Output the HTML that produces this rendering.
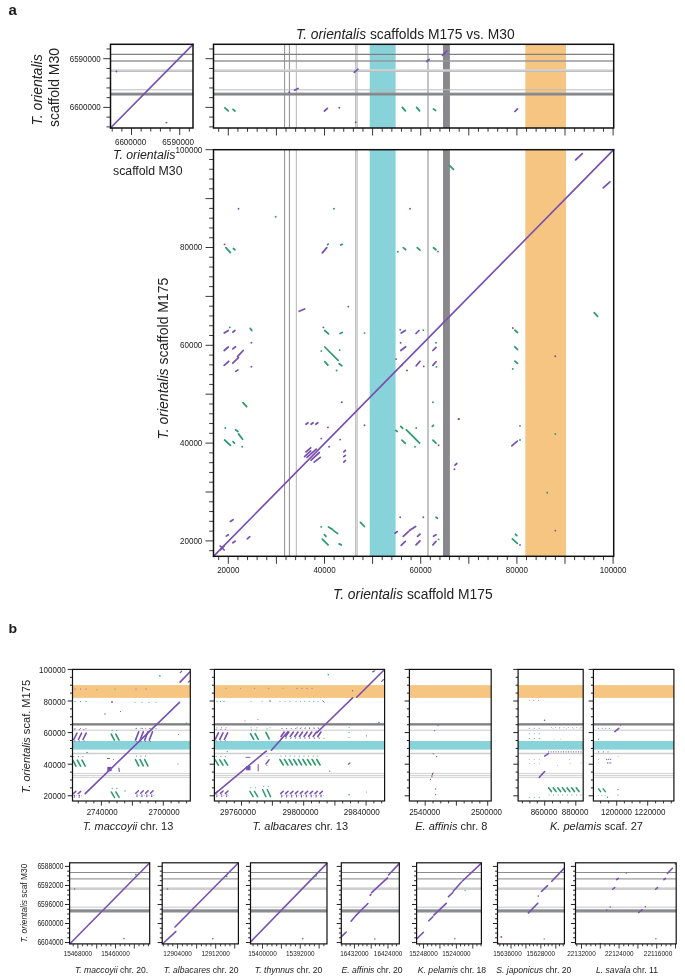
<!DOCTYPE html>
<html><head><meta charset="utf-8"><style>
html,body{margin:0;padding:0;background:#fff;}
svg{display:block;will-change:transform;font-family:"Liberation Sans", sans-serif;}
</style></head><body>
<svg width="685" height="976" viewBox="0 0 685 976">
<rect width="685" height="976" fill="#fff"/>
<text x="8.6" y="14.6" font-size="15" text-anchor="start" font-weight="bold" fill="#1a1a1a">a</text>
<rect x="369.7" y="44.3" width="25.9" height="83.7" fill="#88d3da"/>
<rect x="525.3" y="44.3" width="40.7" height="83.7" fill="#f7c582"/>
<rect x="443" y="44.3" width="6.9" height="83.7" fill="#89898d"/>
<line x1="284.6" y1="44.3" x2="284.6" y2="128" stroke="#8e8e8e" stroke-width="1"/>
<line x1="289.4" y1="44.3" x2="289.4" y2="128" stroke="#8e8e8e" stroke-width="1"/>
<line x1="296.3" y1="44.3" x2="296.3" y2="128" stroke="#b2b2b2" stroke-width="1"/>
<rect x="355.1" y="44.3" width="2.6" height="83.7" fill="#dadada"/>
<line x1="355.5" y1="44.3" x2="355.5" y2="128" stroke="#bcbcbc" stroke-width="0.8"/>
<line x1="357.3" y1="44.3" x2="357.3" y2="128" stroke="#c4c4c4" stroke-width="0.8"/>
<line x1="428" y1="44.3" x2="428" y2="128" stroke="#a2a2a2" stroke-width="1.3"/>
<line x1="213.5" y1="54.3" x2="613.7" y2="54.3" stroke="#7f8084" stroke-width="1.2"/>
<line x1="213.5" y1="61" x2="613.7" y2="61" stroke="#96979b" stroke-width="1.4"/>
<rect x="213.5" y="69.3" width="400.2" height="2.5" fill="#d6d6d8"/>
<line x1="213.5" y1="71.3" x2="613.7" y2="71.3" stroke="#b2b3b7" stroke-width="0.9"/>
<line x1="213.5" y1="89.8" x2="613.7" y2="89.8" stroke="#bcbcbc" stroke-width="1"/>
<rect x="213.5" y="92.6" width="400.2" height="3" fill="#929397"/>
<line x1="213.5" y1="94.4" x2="613.7" y2="94.4" stroke="#838488" stroke-width="1.2"/>
<rect x="369.7" y="149.7" width="25.9" height="406.6" fill="#88d3da"/>
<rect x="525.3" y="149.7" width="40.7" height="406.6" fill="#f7c582"/>
<rect x="443" y="149.7" width="6.9" height="406.6" fill="#89898d"/>
<line x1="284.6" y1="149.7" x2="284.6" y2="556.3" stroke="#8e8e8e" stroke-width="1"/>
<line x1="289.4" y1="149.7" x2="289.4" y2="556.3" stroke="#8e8e8e" stroke-width="1"/>
<line x1="296.3" y1="149.7" x2="296.3" y2="556.3" stroke="#b2b2b2" stroke-width="1"/>
<rect x="355.1" y="149.7" width="2.6" height="406.6" fill="#dadada"/>
<line x1="355.5" y1="149.7" x2="355.5" y2="556.3" stroke="#bcbcbc" stroke-width="0.8"/>
<line x1="357.3" y1="149.7" x2="357.3" y2="556.3" stroke="#c4c4c4" stroke-width="0.8"/>
<line x1="428" y1="149.7" x2="428" y2="556.3" stroke="#a2a2a2" stroke-width="1.3"/>
<line x1="110.5" y1="54.3" x2="193" y2="54.3" stroke="#7f8084" stroke-width="1.2"/>
<line x1="110.5" y1="61" x2="193" y2="61" stroke="#96979b" stroke-width="1.4"/>
<rect x="110.5" y="69.3" width="82.5" height="2.5" fill="#d6d6d8"/>
<line x1="110.5" y1="71.3" x2="193" y2="71.3" stroke="#b2b3b7" stroke-width="0.9"/>
<line x1="110.5" y1="89.8" x2="193" y2="89.8" stroke="#bcbcbc" stroke-width="1"/>
<rect x="110.5" y="92.6" width="82.5" height="3" fill="#929397"/>
<line x1="110.5" y1="94.4" x2="193" y2="94.4" stroke="#838488" stroke-width="1.2"/>
<line x1="218.68" y1="128" x2="218.68" y2="131.8" stroke="#222" stroke-width="0.9"/>
<line x1="228.3" y1="128" x2="228.3" y2="135.5" stroke="#222" stroke-width="0.9"/>
<line x1="237.92" y1="128" x2="237.92" y2="131.8" stroke="#222" stroke-width="0.9"/>
<line x1="247.54" y1="128" x2="247.54" y2="131.8" stroke="#222" stroke-width="0.9"/>
<line x1="257.16" y1="128" x2="257.16" y2="131.8" stroke="#222" stroke-width="0.9"/>
<line x1="266.78" y1="128" x2="266.78" y2="131.8" stroke="#222" stroke-width="0.9"/>
<line x1="276.4" y1="128" x2="276.4" y2="135.5" stroke="#222" stroke-width="0.9"/>
<line x1="286.02" y1="128" x2="286.02" y2="131.8" stroke="#222" stroke-width="0.9"/>
<line x1="295.64" y1="128" x2="295.64" y2="131.8" stroke="#222" stroke-width="0.9"/>
<line x1="305.26" y1="128" x2="305.26" y2="131.8" stroke="#222" stroke-width="0.9"/>
<line x1="314.88" y1="128" x2="314.88" y2="131.8" stroke="#222" stroke-width="0.9"/>
<line x1="324.5" y1="128" x2="324.5" y2="135.5" stroke="#222" stroke-width="0.9"/>
<line x1="334.12" y1="128" x2="334.12" y2="131.8" stroke="#222" stroke-width="0.9"/>
<line x1="343.74" y1="128" x2="343.74" y2="131.8" stroke="#222" stroke-width="0.9"/>
<line x1="353.36" y1="128" x2="353.36" y2="131.8" stroke="#222" stroke-width="0.9"/>
<line x1="362.98" y1="128" x2="362.98" y2="131.8" stroke="#222" stroke-width="0.9"/>
<line x1="372.6" y1="128" x2="372.6" y2="135.5" stroke="#222" stroke-width="0.9"/>
<line x1="382.22" y1="128" x2="382.22" y2="131.8" stroke="#222" stroke-width="0.9"/>
<line x1="391.84" y1="128" x2="391.84" y2="131.8" stroke="#222" stroke-width="0.9"/>
<line x1="401.46" y1="128" x2="401.46" y2="131.8" stroke="#222" stroke-width="0.9"/>
<line x1="411.08" y1="128" x2="411.08" y2="131.8" stroke="#222" stroke-width="0.9"/>
<line x1="420.7" y1="128" x2="420.7" y2="135.5" stroke="#222" stroke-width="0.9"/>
<line x1="430.32" y1="128" x2="430.32" y2="131.8" stroke="#222" stroke-width="0.9"/>
<line x1="439.94" y1="128" x2="439.94" y2="131.8" stroke="#222" stroke-width="0.9"/>
<line x1="449.56" y1="128" x2="449.56" y2="131.8" stroke="#222" stroke-width="0.9"/>
<line x1="459.18" y1="128" x2="459.18" y2="131.8" stroke="#222" stroke-width="0.9"/>
<line x1="468.8" y1="128" x2="468.8" y2="135.5" stroke="#222" stroke-width="0.9"/>
<line x1="478.42" y1="128" x2="478.42" y2="131.8" stroke="#222" stroke-width="0.9"/>
<line x1="488.04" y1="128" x2="488.04" y2="131.8" stroke="#222" stroke-width="0.9"/>
<line x1="497.66" y1="128" x2="497.66" y2="131.8" stroke="#222" stroke-width="0.9"/>
<line x1="507.28" y1="128" x2="507.28" y2="131.8" stroke="#222" stroke-width="0.9"/>
<line x1="516.9" y1="128" x2="516.9" y2="135.5" stroke="#222" stroke-width="0.9"/>
<line x1="526.52" y1="128" x2="526.52" y2="131.8" stroke="#222" stroke-width="0.9"/>
<line x1="536.14" y1="128" x2="536.14" y2="131.8" stroke="#222" stroke-width="0.9"/>
<line x1="545.76" y1="128" x2="545.76" y2="131.8" stroke="#222" stroke-width="0.9"/>
<line x1="555.38" y1="128" x2="555.38" y2="131.8" stroke="#222" stroke-width="0.9"/>
<line x1="565" y1="128" x2="565" y2="135.5" stroke="#222" stroke-width="0.9"/>
<line x1="574.62" y1="128" x2="574.62" y2="131.8" stroke="#222" stroke-width="0.9"/>
<line x1="584.24" y1="128" x2="584.24" y2="131.8" stroke="#222" stroke-width="0.9"/>
<line x1="593.86" y1="128" x2="593.86" y2="131.8" stroke="#222" stroke-width="0.9"/>
<line x1="603.48" y1="128" x2="603.48" y2="131.8" stroke="#222" stroke-width="0.9"/>
<line x1="613.1" y1="128" x2="613.1" y2="135.5" stroke="#222" stroke-width="0.9"/>
<line x1="218.68" y1="556.3" x2="218.68" y2="560.1" stroke="#222" stroke-width="0.9"/>
<line x1="228.3" y1="556.3" x2="228.3" y2="563.8" stroke="#222" stroke-width="0.9"/>
<line x1="237.92" y1="556.3" x2="237.92" y2="560.1" stroke="#222" stroke-width="0.9"/>
<line x1="247.54" y1="556.3" x2="247.54" y2="560.1" stroke="#222" stroke-width="0.9"/>
<line x1="257.16" y1="556.3" x2="257.16" y2="560.1" stroke="#222" stroke-width="0.9"/>
<line x1="266.78" y1="556.3" x2="266.78" y2="560.1" stroke="#222" stroke-width="0.9"/>
<line x1="276.4" y1="556.3" x2="276.4" y2="563.8" stroke="#222" stroke-width="0.9"/>
<line x1="286.02" y1="556.3" x2="286.02" y2="560.1" stroke="#222" stroke-width="0.9"/>
<line x1="295.64" y1="556.3" x2="295.64" y2="560.1" stroke="#222" stroke-width="0.9"/>
<line x1="305.26" y1="556.3" x2="305.26" y2="560.1" stroke="#222" stroke-width="0.9"/>
<line x1="314.88" y1="556.3" x2="314.88" y2="560.1" stroke="#222" stroke-width="0.9"/>
<line x1="324.5" y1="556.3" x2="324.5" y2="563.8" stroke="#222" stroke-width="0.9"/>
<line x1="334.12" y1="556.3" x2="334.12" y2="560.1" stroke="#222" stroke-width="0.9"/>
<line x1="343.74" y1="556.3" x2="343.74" y2="560.1" stroke="#222" stroke-width="0.9"/>
<line x1="353.36" y1="556.3" x2="353.36" y2="560.1" stroke="#222" stroke-width="0.9"/>
<line x1="362.98" y1="556.3" x2="362.98" y2="560.1" stroke="#222" stroke-width="0.9"/>
<line x1="372.6" y1="556.3" x2="372.6" y2="563.8" stroke="#222" stroke-width="0.9"/>
<line x1="382.22" y1="556.3" x2="382.22" y2="560.1" stroke="#222" stroke-width="0.9"/>
<line x1="391.84" y1="556.3" x2="391.84" y2="560.1" stroke="#222" stroke-width="0.9"/>
<line x1="401.46" y1="556.3" x2="401.46" y2="560.1" stroke="#222" stroke-width="0.9"/>
<line x1="411.08" y1="556.3" x2="411.08" y2="560.1" stroke="#222" stroke-width="0.9"/>
<line x1="420.7" y1="556.3" x2="420.7" y2="563.8" stroke="#222" stroke-width="0.9"/>
<line x1="430.32" y1="556.3" x2="430.32" y2="560.1" stroke="#222" stroke-width="0.9"/>
<line x1="439.94" y1="556.3" x2="439.94" y2="560.1" stroke="#222" stroke-width="0.9"/>
<line x1="449.56" y1="556.3" x2="449.56" y2="560.1" stroke="#222" stroke-width="0.9"/>
<line x1="459.18" y1="556.3" x2="459.18" y2="560.1" stroke="#222" stroke-width="0.9"/>
<line x1="468.8" y1="556.3" x2="468.8" y2="563.8" stroke="#222" stroke-width="0.9"/>
<line x1="478.42" y1="556.3" x2="478.42" y2="560.1" stroke="#222" stroke-width="0.9"/>
<line x1="488.04" y1="556.3" x2="488.04" y2="560.1" stroke="#222" stroke-width="0.9"/>
<line x1="497.66" y1="556.3" x2="497.66" y2="560.1" stroke="#222" stroke-width="0.9"/>
<line x1="507.28" y1="556.3" x2="507.28" y2="560.1" stroke="#222" stroke-width="0.9"/>
<line x1="516.9" y1="556.3" x2="516.9" y2="563.8" stroke="#222" stroke-width="0.9"/>
<line x1="526.52" y1="556.3" x2="526.52" y2="560.1" stroke="#222" stroke-width="0.9"/>
<line x1="536.14" y1="556.3" x2="536.14" y2="560.1" stroke="#222" stroke-width="0.9"/>
<line x1="545.76" y1="556.3" x2="545.76" y2="560.1" stroke="#222" stroke-width="0.9"/>
<line x1="555.38" y1="556.3" x2="555.38" y2="560.1" stroke="#222" stroke-width="0.9"/>
<line x1="565" y1="556.3" x2="565" y2="563.8" stroke="#222" stroke-width="0.9"/>
<line x1="574.62" y1="556.3" x2="574.62" y2="560.1" stroke="#222" stroke-width="0.9"/>
<line x1="584.24" y1="556.3" x2="584.24" y2="560.1" stroke="#222" stroke-width="0.9"/>
<line x1="593.86" y1="556.3" x2="593.86" y2="560.1" stroke="#222" stroke-width="0.9"/>
<line x1="603.48" y1="556.3" x2="603.48" y2="560.1" stroke="#222" stroke-width="0.9"/>
<line x1="613.1" y1="556.3" x2="613.1" y2="563.8" stroke="#222" stroke-width="0.9"/>
<line x1="209.2" y1="550.68" x2="213.5" y2="550.68" stroke="#222" stroke-width="0.9"/>
<line x1="205.5" y1="540.9" x2="213.5" y2="540.9" stroke="#222" stroke-width="0.9"/>
<line x1="209.2" y1="531.12" x2="213.5" y2="531.12" stroke="#222" stroke-width="0.9"/>
<line x1="209.2" y1="521.34" x2="213.5" y2="521.34" stroke="#222" stroke-width="0.9"/>
<line x1="209.2" y1="511.56" x2="213.5" y2="511.56" stroke="#222" stroke-width="0.9"/>
<line x1="209.2" y1="501.78" x2="213.5" y2="501.78" stroke="#222" stroke-width="0.9"/>
<line x1="205.5" y1="492" x2="213.5" y2="492" stroke="#222" stroke-width="0.9"/>
<line x1="209.2" y1="482.22" x2="213.5" y2="482.22" stroke="#222" stroke-width="0.9"/>
<line x1="209.2" y1="472.44" x2="213.5" y2="472.44" stroke="#222" stroke-width="0.9"/>
<line x1="209.2" y1="462.66" x2="213.5" y2="462.66" stroke="#222" stroke-width="0.9"/>
<line x1="209.2" y1="452.88" x2="213.5" y2="452.88" stroke="#222" stroke-width="0.9"/>
<line x1="205.5" y1="443.1" x2="213.5" y2="443.1" stroke="#222" stroke-width="0.9"/>
<line x1="209.2" y1="433.32" x2="213.5" y2="433.32" stroke="#222" stroke-width="0.9"/>
<line x1="209.2" y1="423.54" x2="213.5" y2="423.54" stroke="#222" stroke-width="0.9"/>
<line x1="209.2" y1="413.76" x2="213.5" y2="413.76" stroke="#222" stroke-width="0.9"/>
<line x1="209.2" y1="403.98" x2="213.5" y2="403.98" stroke="#222" stroke-width="0.9"/>
<line x1="205.5" y1="394.2" x2="213.5" y2="394.2" stroke="#222" stroke-width="0.9"/>
<line x1="209.2" y1="384.42" x2="213.5" y2="384.42" stroke="#222" stroke-width="0.9"/>
<line x1="209.2" y1="374.64" x2="213.5" y2="374.64" stroke="#222" stroke-width="0.9"/>
<line x1="209.2" y1="364.86" x2="213.5" y2="364.86" stroke="#222" stroke-width="0.9"/>
<line x1="209.2" y1="355.08" x2="213.5" y2="355.08" stroke="#222" stroke-width="0.9"/>
<line x1="205.5" y1="345.3" x2="213.5" y2="345.3" stroke="#222" stroke-width="0.9"/>
<line x1="209.2" y1="335.52" x2="213.5" y2="335.52" stroke="#222" stroke-width="0.9"/>
<line x1="209.2" y1="325.74" x2="213.5" y2="325.74" stroke="#222" stroke-width="0.9"/>
<line x1="209.2" y1="315.96" x2="213.5" y2="315.96" stroke="#222" stroke-width="0.9"/>
<line x1="209.2" y1="306.18" x2="213.5" y2="306.18" stroke="#222" stroke-width="0.9"/>
<line x1="205.5" y1="296.4" x2="213.5" y2="296.4" stroke="#222" stroke-width="0.9"/>
<line x1="209.2" y1="286.62" x2="213.5" y2="286.62" stroke="#222" stroke-width="0.9"/>
<line x1="209.2" y1="276.84" x2="213.5" y2="276.84" stroke="#222" stroke-width="0.9"/>
<line x1="209.2" y1="267.06" x2="213.5" y2="267.06" stroke="#222" stroke-width="0.9"/>
<line x1="209.2" y1="257.28" x2="213.5" y2="257.28" stroke="#222" stroke-width="0.9"/>
<line x1="205.5" y1="247.5" x2="213.5" y2="247.5" stroke="#222" stroke-width="0.9"/>
<line x1="209.2" y1="237.72" x2="213.5" y2="237.72" stroke="#222" stroke-width="0.9"/>
<line x1="209.2" y1="227.94" x2="213.5" y2="227.94" stroke="#222" stroke-width="0.9"/>
<line x1="209.2" y1="218.16" x2="213.5" y2="218.16" stroke="#222" stroke-width="0.9"/>
<line x1="209.2" y1="208.38" x2="213.5" y2="208.38" stroke="#222" stroke-width="0.9"/>
<line x1="205.5" y1="198.6" x2="213.5" y2="198.6" stroke="#222" stroke-width="0.9"/>
<line x1="209.2" y1="188.82" x2="213.5" y2="188.82" stroke="#222" stroke-width="0.9"/>
<line x1="209.2" y1="179.04" x2="213.5" y2="179.04" stroke="#222" stroke-width="0.9"/>
<line x1="209.2" y1="169.26" x2="213.5" y2="169.26" stroke="#222" stroke-width="0.9"/>
<line x1="209.2" y1="159.48" x2="213.5" y2="159.48" stroke="#222" stroke-width="0.9"/>
<line x1="205.5" y1="149.7" x2="213.5" y2="149.7" stroke="#222" stroke-width="0.9"/>
<line x1="209.2" y1="48.96" x2="213.5" y2="48.96" stroke="#222" stroke-width="0.9"/>
<line x1="106.5" y1="48.96" x2="110.5" y2="48.96" stroke="#222" stroke-width="0.9"/>
<line x1="205.5" y1="58.7" x2="213.5" y2="58.7" stroke="#222" stroke-width="0.9"/>
<line x1="103.2" y1="58.7" x2="110.5" y2="58.7" stroke="#222" stroke-width="0.9"/>
<line x1="209.2" y1="68.44" x2="213.5" y2="68.44" stroke="#222" stroke-width="0.9"/>
<line x1="106.5" y1="68.44" x2="110.5" y2="68.44" stroke="#222" stroke-width="0.9"/>
<line x1="209.2" y1="78.18" x2="213.5" y2="78.18" stroke="#222" stroke-width="0.9"/>
<line x1="106.5" y1="78.18" x2="110.5" y2="78.18" stroke="#222" stroke-width="0.9"/>
<line x1="209.2" y1="87.92" x2="213.5" y2="87.92" stroke="#222" stroke-width="0.9"/>
<line x1="106.5" y1="87.92" x2="110.5" y2="87.92" stroke="#222" stroke-width="0.9"/>
<line x1="209.2" y1="97.66" x2="213.5" y2="97.66" stroke="#222" stroke-width="0.9"/>
<line x1="106.5" y1="97.66" x2="110.5" y2="97.66" stroke="#222" stroke-width="0.9"/>
<line x1="205.5" y1="107.4" x2="213.5" y2="107.4" stroke="#222" stroke-width="0.9"/>
<line x1="103.2" y1="107.4" x2="110.5" y2="107.4" stroke="#222" stroke-width="0.9"/>
<line x1="209.2" y1="117.14" x2="213.5" y2="117.14" stroke="#222" stroke-width="0.9"/>
<line x1="106.5" y1="117.14" x2="110.5" y2="117.14" stroke="#222" stroke-width="0.9"/>
<line x1="209.2" y1="126.88" x2="213.5" y2="126.88" stroke="#222" stroke-width="0.9"/>
<line x1="106.5" y1="126.88" x2="110.5" y2="126.88" stroke="#222" stroke-width="0.9"/>
<line x1="189.34" y1="128" x2="189.34" y2="131.6" stroke="#222" stroke-width="0.9"/>
<line x1="179.7" y1="128" x2="179.7" y2="135" stroke="#222" stroke-width="0.9"/>
<line x1="170.06" y1="128" x2="170.06" y2="131.6" stroke="#222" stroke-width="0.9"/>
<line x1="160.42" y1="128" x2="160.42" y2="131.6" stroke="#222" stroke-width="0.9"/>
<line x1="150.78" y1="128" x2="150.78" y2="131.6" stroke="#222" stroke-width="0.9"/>
<line x1="141.14" y1="128" x2="141.14" y2="131.6" stroke="#222" stroke-width="0.9"/>
<line x1="131.5" y1="128" x2="131.5" y2="135" stroke="#222" stroke-width="0.9"/>
<line x1="121.86" y1="128" x2="121.86" y2="131.6" stroke="#222" stroke-width="0.9"/>
<line x1="112.22" y1="128" x2="112.22" y2="131.6" stroke="#222" stroke-width="0.9"/>
<line x1="110.5" y1="128" x2="193" y2="44.3" stroke="#7850af" stroke-width="1.7" stroke-linecap="round"/>
<line x1="213.5" y1="556.3" x2="613.7" y2="149.7" stroke="#7850af" stroke-width="1.7" stroke-linecap="round"/>
<line x1="225.9" y1="247.7" x2="230.4" y2="252.6" stroke="#2e9a6e" stroke-width="1.75" stroke-linecap="round"/>
<line x1="233.4" y1="248.5" x2="234.9" y2="249.7" stroke="#2e9a6e" stroke-width="1.75" stroke-linecap="round"/>
<line x1="322.3" y1="252.8" x2="326.8" y2="247.7" stroke="#7850af" stroke-width="1.75" stroke-linecap="round"/>
<line x1="327.6" y1="244.7" x2="328.2" y2="244.1" stroke="#2e9a6e" stroke-width="1.75" stroke-linecap="round"/>
<line x1="340.7" y1="245" x2="342.2" y2="244.4" stroke="#2e9a6e" stroke-width="1.75" stroke-linecap="round"/>
<line x1="449.3" y1="165.3" x2="453.4" y2="169.4" stroke="#2e9a6e" stroke-width="1.75" stroke-linecap="round"/>
<line x1="403.3" y1="247.7" x2="405.7" y2="249.7" stroke="#2e9a6e" stroke-width="1.75" stroke-linecap="round"/>
<line x1="417.2" y1="247.7" x2="420" y2="250.1" stroke="#2e9a6e" stroke-width="1.75" stroke-linecap="round"/>
<line x1="433.5" y1="247.7" x2="436" y2="249.7" stroke="#2e9a6e" stroke-width="1.75" stroke-linecap="round"/>
<line x1="575.6" y1="159.9" x2="582.3" y2="153.6" stroke="#7850af" stroke-width="1.75" stroke-linecap="round"/>
<line x1="603.2" y1="187.9" x2="609.9" y2="181.8" stroke="#7850af" stroke-width="1.75" stroke-linecap="round"/>
<line x1="224.2" y1="333.1" x2="228.3" y2="330.5" stroke="#7850af" stroke-width="1.75" stroke-linecap="round"/>
<line x1="232.8" y1="332.1" x2="234.9" y2="330.5" stroke="#7850af" stroke-width="1.75" stroke-linecap="round"/>
<line x1="224.2" y1="350.5" x2="228.3" y2="347" stroke="#7850af" stroke-width="1.75" stroke-linecap="round"/>
<line x1="232.8" y1="348.9" x2="235.5" y2="346.8" stroke="#7850af" stroke-width="1.75" stroke-linecap="round"/>
<line x1="237.5" y1="356.6" x2="243.2" y2="350.5" stroke="#7850af" stroke-width="1.75" stroke-linecap="round"/>
<line x1="224.2" y1="365.4" x2="228.7" y2="361.3" stroke="#7850af" stroke-width="1.75" stroke-linecap="round"/>
<line x1="232.8" y1="363.2" x2="238.5" y2="357.7" stroke="#7850af" stroke-width="1.75" stroke-linecap="round"/>
<line x1="235.9" y1="371.4" x2="237.9" y2="369.9" stroke="#7850af" stroke-width="1.75" stroke-linecap="round"/>
<line x1="299.2" y1="311.3" x2="304.6" y2="309" stroke="#7850af" stroke-width="1.75" stroke-linecap="round"/>
<line x1="250.2" y1="328.4" x2="251.8" y2="330.5" stroke="#2e9a6e" stroke-width="1.75" stroke-linecap="round"/>
<line x1="243" y1="402.6" x2="246.7" y2="406.7" stroke="#2e9a6e" stroke-width="1.75" stroke-linecap="round"/>
<line x1="324.8" y1="330.5" x2="328.5" y2="333.8" stroke="#2e9a6e" stroke-width="1.75" stroke-linecap="round"/>
<line x1="340.1" y1="333.5" x2="342.2" y2="332.5" stroke="#2e9a6e" stroke-width="1.75" stroke-linecap="round"/>
<line x1="324.8" y1="347" x2="338.1" y2="360.3" stroke="#2e9a6e" stroke-width="1.75" stroke-linecap="round"/>
<line x1="324.8" y1="361.7" x2="327.9" y2="365.2" stroke="#2e9a6e" stroke-width="1.75" stroke-linecap="round"/>
<line x1="339.1" y1="363.8" x2="341.8" y2="365.8" stroke="#2e9a6e" stroke-width="1.75" stroke-linecap="round"/>
<line x1="401.2" y1="333.1" x2="405.3" y2="330.5" stroke="#7850af" stroke-width="1.75" stroke-linecap="round"/>
<line x1="416" y1="333.5" x2="419" y2="330.5" stroke="#7850af" stroke-width="1.75" stroke-linecap="round"/>
<line x1="400.8" y1="350.5" x2="405.7" y2="346.8" stroke="#7850af" stroke-width="1.75" stroke-linecap="round"/>
<line x1="432.9" y1="350.5" x2="436" y2="347.4" stroke="#7850af" stroke-width="1.75" stroke-linecap="round"/>
<line x1="416.2" y1="365.8" x2="420" y2="361.3" stroke="#7850af" stroke-width="1.75" stroke-linecap="round"/>
<line x1="432.9" y1="365.4" x2="436" y2="361.7" stroke="#7850af" stroke-width="1.75" stroke-linecap="round"/>
<line x1="594.2" y1="312.7" x2="597.6" y2="316.4" stroke="#2e9a6e" stroke-width="1.75" stroke-linecap="round"/>
<line x1="514.9" y1="330.1" x2="517.5" y2="332.5" stroke="#2e9a6e" stroke-width="1.75" stroke-linecap="round"/>
<line x1="514.9" y1="346.8" x2="517.5" y2="349.5" stroke="#2e9a6e" stroke-width="1.75" stroke-linecap="round"/>
<line x1="514.9" y1="361.1" x2="517.5" y2="363.4" stroke="#2e9a6e" stroke-width="1.75" stroke-linecap="round"/>
<line x1="235.5" y1="429.8" x2="237.9" y2="431.5" stroke="#2e9a6e" stroke-width="1.75" stroke-linecap="round"/>
<line x1="238.5" y1="433.9" x2="242.6" y2="439.2" stroke="#2e9a6e" stroke-width="1.75" stroke-linecap="round"/>
<line x1="224.6" y1="440" x2="230.4" y2="445.4" stroke="#2e9a6e" stroke-width="1.75" stroke-linecap="round"/>
<line x1="233" y1="441.7" x2="234.5" y2="443.1" stroke="#2e9a6e" stroke-width="1.75" stroke-linecap="round"/>
<line x1="328.5" y1="526.9" x2="332.6" y2="529.6" stroke="#2e9a6e" stroke-width="1.75" stroke-linecap="round"/>
<line x1="333.6" y1="530.6" x2="337.7" y2="533.6" stroke="#2e9a6e" stroke-width="1.75" stroke-linecap="round"/>
<line x1="324.4" y1="534.7" x2="326" y2="536.3" stroke="#2e9a6e" stroke-width="1.75" stroke-linecap="round"/>
<line x1="322.3" y1="539.2" x2="328.1" y2="544.9" stroke="#2e9a6e" stroke-width="1.75" stroke-linecap="round"/>
<line x1="339.1" y1="543.9" x2="341.3" y2="544.9" stroke="#2e9a6e" stroke-width="1.75" stroke-linecap="round"/>
<line x1="306" y1="424.3" x2="308" y2="422.7" stroke="#7850af" stroke-width="1.75" stroke-linecap="round"/>
<line x1="311.1" y1="424.3" x2="313.1" y2="422.7" stroke="#7850af" stroke-width="1.75" stroke-linecap="round"/>
<line x1="315.8" y1="424.3" x2="317.8" y2="422.7" stroke="#7850af" stroke-width="1.75" stroke-linecap="round"/>
<line x1="306" y1="451.9" x2="310.7" y2="447.8" stroke="#7850af" stroke-width="1.75" stroke-linecap="round"/>
<line x1="304.6" y1="456.6" x2="310.7" y2="450.9" stroke="#7850af" stroke-width="1.75" stroke-linecap="round"/>
<line x1="307" y1="457.4" x2="316.2" y2="449.2" stroke="#7850af" stroke-width="1.75" stroke-linecap="round"/>
<line x1="311.1" y1="460.1" x2="319.3" y2="452.5" stroke="#7850af" stroke-width="1.75" stroke-linecap="round"/>
<line x1="314.2" y1="462.1" x2="320.3" y2="457.4" stroke="#7850af" stroke-width="1.75" stroke-linecap="round"/>
<line x1="343.8" y1="451.9" x2="345.4" y2="450.3" stroke="#7850af" stroke-width="1.75" stroke-linecap="round"/>
<line x1="343.8" y1="456.6" x2="345.4" y2="455.4" stroke="#7850af" stroke-width="1.75" stroke-linecap="round"/>
<line x1="343.8" y1="462.1" x2="345.4" y2="460.5" stroke="#7850af" stroke-width="1.75" stroke-linecap="round"/>
<line x1="230.4" y1="521.4" x2="233" y2="519.7" stroke="#7850af" stroke-width="1.75" stroke-linecap="round"/>
<line x1="226.3" y1="536.1" x2="228.3" y2="534.7" stroke="#7850af" stroke-width="1.75" stroke-linecap="round"/>
<line x1="232.8" y1="542.8" x2="235.1" y2="541.2" stroke="#7850af" stroke-width="1.75" stroke-linecap="round"/>
<line x1="247.3" y1="538.8" x2="249.8" y2="536.7" stroke="#7850af" stroke-width="1.75" stroke-linecap="round"/>
<line x1="220.2" y1="546" x2="224.2" y2="550" stroke="#7850af" stroke-width="1.75" stroke-linecap="round"/>
<line x1="220.2" y1="550" x2="224.2" y2="546" stroke="#7850af" stroke-width="1.75" stroke-linecap="round"/>
<line x1="395.7" y1="430.4" x2="397.2" y2="431.5" stroke="#2e9a6e" stroke-width="1.75" stroke-linecap="round"/>
<line x1="400.8" y1="426.4" x2="402.7" y2="428.4" stroke="#2e9a6e" stroke-width="1.75" stroke-linecap="round"/>
<line x1="406.4" y1="429.8" x2="419.6" y2="443.1" stroke="#2e9a6e" stroke-width="1.75" stroke-linecap="round"/>
<line x1="401.9" y1="440.2" x2="405.3" y2="443.3" stroke="#2e9a6e" stroke-width="1.75" stroke-linecap="round"/>
<line x1="432.3" y1="426.4" x2="433.5" y2="425.3" stroke="#2e9a6e" stroke-width="1.75" stroke-linecap="round"/>
<line x1="432.9" y1="440.2" x2="436" y2="443.1" stroke="#2e9a6e" stroke-width="1.75" stroke-linecap="round"/>
<line x1="360.4" y1="522.4" x2="364.5" y2="526.5" stroke="#2e9a6e" stroke-width="1.75" stroke-linecap="round"/>
<line x1="436" y1="517.3" x2="437.4" y2="518.3" stroke="#2e9a6e" stroke-width="1.75" stroke-linecap="round"/>
<line x1="455" y1="465.2" x2="456.8" y2="463.5" stroke="#7850af" stroke-width="1.75" stroke-linecap="round"/>
<line x1="395.1" y1="533.2" x2="397.2" y2="531.6" stroke="#7850af" stroke-width="1.75" stroke-linecap="round"/>
<line x1="403.3" y1="536.3" x2="408.4" y2="531.6" stroke="#7850af" stroke-width="1.75" stroke-linecap="round"/>
<line x1="409.4" y1="530.6" x2="415.6" y2="526.5" stroke="#7850af" stroke-width="1.75" stroke-linecap="round"/>
<line x1="401.2" y1="545.3" x2="405.3" y2="541.4" stroke="#7850af" stroke-width="1.75" stroke-linecap="round"/>
<line x1="416" y1="544.9" x2="420" y2="540.8" stroke="#7850af" stroke-width="1.75" stroke-linecap="round"/>
<line x1="417.6" y1="536.3" x2="420" y2="534.1" stroke="#7850af" stroke-width="1.75" stroke-linecap="round"/>
<line x1="433.5" y1="536.3" x2="436" y2="534.7" stroke="#7850af" stroke-width="1.75" stroke-linecap="round"/>
<line x1="432.9" y1="544.9" x2="436" y2="541.4" stroke="#7850af" stroke-width="1.75" stroke-linecap="round"/>
<line x1="515.5" y1="534.3" x2="516.9" y2="535.7" stroke="#2e9a6e" stroke-width="1.75" stroke-linecap="round"/>
<line x1="512.4" y1="538.8" x2="517.3" y2="543.3" stroke="#2e9a6e" stroke-width="1.75" stroke-linecap="round"/>
<line x1="511.8" y1="445.8" x2="517.3" y2="441.1" stroke="#7850af" stroke-width="1.75" stroke-linecap="round"/>
<line x1="224.9" y1="107.8" x2="228.3" y2="110.8" stroke="#2e9a6e" stroke-width="1.75" stroke-linecap="round"/>
<line x1="233" y1="109.4" x2="234.9" y2="111" stroke="#2e9a6e" stroke-width="1.75" stroke-linecap="round"/>
<line x1="324.4" y1="111" x2="327.4" y2="108.4" stroke="#7850af" stroke-width="1.75" stroke-linecap="round"/>
<line x1="294.6" y1="90.2" x2="298.1" y2="88.5" stroke="#7850af" stroke-width="1.75" stroke-linecap="round"/>
<line x1="354.2" y1="72.3" x2="357.9" y2="69.2" stroke="#7850af" stroke-width="1.75" stroke-linecap="round"/>
<line x1="426.8" y1="61.5" x2="429.2" y2="59.4" stroke="#7850af" stroke-width="1.75" stroke-linecap="round"/>
<line x1="442.5" y1="55.3" x2="446.8" y2="50.8" stroke="#7850af" stroke-width="1.75" stroke-linecap="round"/>
<line x1="402.3" y1="107.4" x2="405.3" y2="110.9" stroke="#2e9a6e" stroke-width="1.75" stroke-linecap="round"/>
<line x1="416.6" y1="107.4" x2="419.6" y2="110.9" stroke="#2e9a6e" stroke-width="1.75" stroke-linecap="round"/>
<line x1="433.5" y1="108.9" x2="435.6" y2="110.5" stroke="#2e9a6e" stroke-width="1.75" stroke-linecap="round"/>
<line x1="514.9" y1="111.5" x2="517.5" y2="108.9" stroke="#7850af" stroke-width="1.75" stroke-linecap="round"/>
<circle cx="238.5" cy="208.7" r="0.95" fill="#7850af"/>
<circle cx="275.7" cy="216.8" r="0.95" fill="#2e9a6e"/>
<circle cx="224.6" cy="244.4" r="0.95" fill="#7850af"/>
<circle cx="334" cy="208.7" r="0.95" fill="#2e9a6e"/>
<circle cx="410" cy="208.7" r="0.95" fill="#7850af"/>
<circle cx="397.8" cy="251.8" r="0.95" fill="#2e9a6e"/>
<circle cx="438" cy="251.6" r="0.95" fill="#7850af"/>
<circle cx="251.4" cy="342.7" r="0.95" fill="#7850af"/>
<circle cx="251.4" cy="366.7" r="0.95" fill="#7850af"/>
<circle cx="348.3" cy="306.6" r="0.95" fill="#7850af"/>
<circle cx="323.4" cy="327.4" r="0.95" fill="#7850af"/>
<circle cx="341.8" cy="402.2" r="0.95" fill="#7850af"/>
<circle cx="229.8" cy="327.4" r="0.95" fill="#2e9a6e"/>
<circle cx="321.3" cy="351.1" r="0.95" fill="#2e9a6e"/>
<circle cx="339.7" cy="350.1" r="0.95" fill="#2e9a6e"/>
<circle cx="336.6" cy="370.5" r="0.95" fill="#2e9a6e"/>
<circle cx="400.2" cy="329.7" r="0.95" fill="#2e9a6e"/>
<circle cx="423.3" cy="330.1" r="0.95" fill="#2e9a6e"/>
<circle cx="436" cy="342.7" r="0.95" fill="#2e9a6e"/>
<circle cx="436.4" cy="366.9" r="0.95" fill="#2e9a6e"/>
<circle cx="364.5" cy="333.1" r="0.95" fill="#2e9a6e"/>
<circle cx="432.9" cy="402.2" r="0.95" fill="#2e9a6e"/>
<circle cx="396.1" cy="359.1" r="0.95" fill="#7850af"/>
<circle cx="401.7" cy="365.4" r="0.95" fill="#7850af"/>
<circle cx="407" cy="370.5" r="0.95" fill="#7850af"/>
<circle cx="400.6" cy="342.7" r="0.95" fill="#7850af"/>
<circle cx="423.7" cy="366.4" r="0.95" fill="#7850af"/>
<circle cx="458.9" cy="419" r="0.95" fill="#7850af"/>
<circle cx="512.8" cy="368.9" r="0.95" fill="#2e9a6e"/>
<circle cx="512.8" cy="328" r="0.95" fill="#7850af"/>
<circle cx="555.3" cy="356.2" r="0.95" fill="#7850af"/>
<circle cx="225.3" cy="428" r="0.95" fill="#2e9a6e"/>
<circle cx="242.2" cy="446.8" r="0.95" fill="#2e9a6e"/>
<circle cx="321.3" cy="526.9" r="0.95" fill="#2e9a6e"/>
<circle cx="327.9" cy="427.4" r="0.95" fill="#7850af"/>
<circle cx="321.3" cy="438.6" r="0.95" fill="#7850af"/>
<circle cx="329.1" cy="446.8" r="0.95" fill="#7850af"/>
<circle cx="340.1" cy="439.6" r="0.95" fill="#7850af"/>
<circle cx="416.2" cy="428" r="0.95" fill="#2e9a6e"/>
<circle cx="415" cy="446.8" r="0.95" fill="#2e9a6e"/>
<circle cx="438.6" cy="539.4" r="0.95" fill="#2e9a6e"/>
<circle cx="458.5" cy="419.2" r="0.95" fill="#7850af"/>
<circle cx="454.4" cy="469.3" r="0.95" fill="#7850af"/>
<circle cx="364.5" cy="425.3" r="0.95" fill="#7850af"/>
<circle cx="438.6" cy="445.2" r="0.95" fill="#7850af"/>
<circle cx="400.2" cy="517.3" r="0.95" fill="#7850af"/>
<circle cx="423.3" cy="517.3" r="0.95" fill="#7850af"/>
<circle cx="520" cy="425.9" r="0.95" fill="#2e9a6e"/>
<circle cx="520" cy="440" r="0.95" fill="#2e9a6e"/>
<circle cx="555.3" cy="433.9" r="0.95" fill="#2e9a6e"/>
<circle cx="547.2" cy="492.8" r="0.95" fill="#2e9a6e"/>
<circle cx="555.3" cy="530.6" r="0.95" fill="#7850af"/>
<circle cx="520" cy="544.9" r="0.95" fill="#7850af"/>
<circle cx="339.3" cy="107.8" r="0.95" fill="#7850af"/>
<circle cx="289.3" cy="92.2" r="0.95" fill="#7850af"/>
<circle cx="355.7" cy="122.2" r="0.95" fill="#7850af"/>
<circle cx="116.4" cy="71.5" r="0.95" fill="#7850af"/>
<circle cx="179.6" cy="57.6" r="0.95" fill="#2e9a6e"/>
<circle cx="166.4" cy="122.6" r="0.95" fill="#7850af"/>
<rect x="110.5" y="44.3" width="82.5" height="83.7" fill="none" stroke="#111" stroke-width="1.5"/>
<rect x="213.5" y="44.3" width="400.2" height="83.7" fill="none" stroke="#111" stroke-width="1.5"/>
<rect x="213.5" y="149.7" width="400.2" height="406.6" fill="none" stroke="#111" stroke-width="1.5"/>
<text x="405.3" y="38.6" font-size="13.8" text-anchor="middle" font-weight="normal" fill="#222"><tspan font-style="italic">T. orientalis</tspan> scaffolds M175 vs. M30</text>
<text x="42.5" y="89.9" font-size="14" text-anchor="middle" font-weight="normal" fill="#222" transform="rotate(-90 42.5 89.9)"><tspan font-style="italic">T. orientalis</tspan></text>
<text x="59.1" y="87.5" font-size="14" text-anchor="middle" font-weight="normal" fill="#222" transform="rotate(-90 59.1 87.5)">scaffold M30</text>
<text x="100.8" y="61.6" font-size="9.6" text-anchor="end" fill="#222" textLength="31.1" lengthAdjust="spacingAndGlyphs">6590000</text>
<text x="100.8" y="110.3" font-size="9.6" text-anchor="end" fill="#222" textLength="31.1" lengthAdjust="spacingAndGlyphs">6600000</text>
<text x="130.6" y="144.6" font-size="9.6" text-anchor="middle" fill="#222" textLength="31.4" lengthAdjust="spacingAndGlyphs">6600000</text>
<text x="178.2" y="144.6" font-size="9.6" text-anchor="middle" fill="#222" textLength="31.8" lengthAdjust="spacingAndGlyphs">6590000</text>
<text x="113" y="159.1" font-size="12.3" text-anchor="start" font-weight="normal" fill="#222"><tspan font-style="italic">T. orientalis</tspan></text>
<text x="113" y="174.6" font-size="12.3" text-anchor="start" font-weight="normal" fill="#222">scaffold M30</text>
<text x="202.3" y="543.8" font-size="9.6" text-anchor="end" fill="#222" textLength="22.25" lengthAdjust="spacingAndGlyphs">20000</text>
<text x="228.3" y="573.1" font-size="9.6" text-anchor="middle" fill="#222" textLength="22.25" lengthAdjust="spacingAndGlyphs">20000</text>
<text x="202.3" y="446" font-size="9.6" text-anchor="end" fill="#222" textLength="22.25" lengthAdjust="spacingAndGlyphs">40000</text>
<text x="324.5" y="573.1" font-size="9.6" text-anchor="middle" fill="#222" textLength="22.25" lengthAdjust="spacingAndGlyphs">40000</text>
<text x="202.3" y="348.2" font-size="9.6" text-anchor="end" fill="#222" textLength="22.25" lengthAdjust="spacingAndGlyphs">60000</text>
<text x="420.7" y="573.1" font-size="9.6" text-anchor="middle" fill="#222" textLength="22.25" lengthAdjust="spacingAndGlyphs">60000</text>
<text x="202.3" y="250.4" font-size="9.6" text-anchor="end" fill="#222" textLength="22.25" lengthAdjust="spacingAndGlyphs">80000</text>
<text x="516.9" y="573.1" font-size="9.6" text-anchor="middle" fill="#222" textLength="22.25" lengthAdjust="spacingAndGlyphs">80000</text>
<text x="202.3" y="152.6" font-size="9.6" text-anchor="end" fill="#222" textLength="26.7" lengthAdjust="spacingAndGlyphs">100000</text>
<text x="613.1" y="573.1" font-size="9.6" text-anchor="middle" fill="#222" textLength="26.7" lengthAdjust="spacingAndGlyphs">100000</text>
<text x="167.7" y="358.6" font-size="14" text-anchor="middle" font-weight="normal" fill="#222" transform="rotate(-90 167.7 358.6)"><tspan font-style="italic">T. orientalis</tspan> scaffold M175</text>
<text x="412.8" y="598.8" font-size="13.8" text-anchor="middle" font-weight="normal" fill="#222"><tspan font-style="italic">T. orientalis</tspan> scaffold M175</text>
<text x="8.6" y="632.9" font-size="13.4" text-anchor="start" font-weight="bold" fill="#1a1a1a" textLength="8.6" lengthAdjust="spacingAndGlyphs">b</text>
<rect x="72.5" y="685.1" width="117.8" height="12.8" fill="#f7c582"/>
<rect x="72.5" y="741" width="117.8" height="8.6" fill="#88d3da"/>
<rect x="72.5" y="723.2" width="117.8" height="2.3" fill="#7f7f82"/>
<line x1="72.5" y1="730.2" x2="190.3" y2="730.2" stroke="#c4c4c4" stroke-width="0.9"/>
<line x1="72.5" y1="753.5" x2="190.3" y2="753.5" stroke="#cdcdcd" stroke-width="1.4"/>
<line x1="72.5" y1="773.4" x2="190.3" y2="773.4" stroke="#c6c6c6" stroke-width="0.8"/>
<line x1="72.5" y1="775.4" x2="190.3" y2="775.4" stroke="#c6c6c6" stroke-width="0.8"/>
<line x1="72.5" y1="777.3" x2="190.3" y2="777.3" stroke="#c2c2c2" stroke-width="0.8"/>
<line x1="67.7" y1="795.8" x2="72.5" y2="795.8" stroke="#222" stroke-width="1"/>
<line x1="70" y1="787.9" x2="72.5" y2="787.9" stroke="#222" stroke-width="1"/>
<line x1="70" y1="780" x2="72.5" y2="780" stroke="#222" stroke-width="1"/>
<line x1="70" y1="772.1" x2="72.5" y2="772.1" stroke="#222" stroke-width="1"/>
<line x1="67.7" y1="764.2" x2="72.5" y2="764.2" stroke="#222" stroke-width="1"/>
<line x1="70" y1="756.3" x2="72.5" y2="756.3" stroke="#222" stroke-width="1"/>
<line x1="70" y1="748.4" x2="72.5" y2="748.4" stroke="#222" stroke-width="1"/>
<line x1="70" y1="740.5" x2="72.5" y2="740.5" stroke="#222" stroke-width="1"/>
<line x1="67.7" y1="732.6" x2="72.5" y2="732.6" stroke="#222" stroke-width="1"/>
<line x1="70" y1="724.7" x2="72.5" y2="724.7" stroke="#222" stroke-width="1"/>
<line x1="70" y1="716.8" x2="72.5" y2="716.8" stroke="#222" stroke-width="1"/>
<line x1="70" y1="708.9" x2="72.5" y2="708.9" stroke="#222" stroke-width="1"/>
<line x1="67.7" y1="701" x2="72.5" y2="701" stroke="#222" stroke-width="1"/>
<line x1="70" y1="693.1" x2="72.5" y2="693.1" stroke="#222" stroke-width="1"/>
<line x1="70" y1="685.2" x2="72.5" y2="685.2" stroke="#222" stroke-width="1"/>
<line x1="70" y1="677.3" x2="72.5" y2="677.3" stroke="#222" stroke-width="1"/>
<line x1="67.7" y1="669.4" x2="72.5" y2="669.4" stroke="#222" stroke-width="1"/>
<rect x="214.4" y="685.1" width="170.2" height="12.8" fill="#f7c582"/>
<rect x="214.4" y="741" width="170.2" height="8.6" fill="#88d3da"/>
<rect x="214.4" y="723.2" width="170.2" height="2.3" fill="#7f7f82"/>
<line x1="214.4" y1="730.2" x2="384.6" y2="730.2" stroke="#c4c4c4" stroke-width="0.9"/>
<line x1="214.4" y1="753.5" x2="384.6" y2="753.5" stroke="#cdcdcd" stroke-width="1.4"/>
<line x1="214.4" y1="773.4" x2="384.6" y2="773.4" stroke="#c6c6c6" stroke-width="0.8"/>
<line x1="214.4" y1="775.4" x2="384.6" y2="775.4" stroke="#c6c6c6" stroke-width="0.8"/>
<line x1="214.4" y1="777.3" x2="384.6" y2="777.3" stroke="#c2c2c2" stroke-width="0.8"/>
<line x1="209.6" y1="795.8" x2="214.4" y2="795.8" stroke="#222" stroke-width="1"/>
<line x1="211.9" y1="787.9" x2="214.4" y2="787.9" stroke="#222" stroke-width="1"/>
<line x1="211.9" y1="780" x2="214.4" y2="780" stroke="#222" stroke-width="1"/>
<line x1="211.9" y1="772.1" x2="214.4" y2="772.1" stroke="#222" stroke-width="1"/>
<line x1="209.6" y1="764.2" x2="214.4" y2="764.2" stroke="#222" stroke-width="1"/>
<line x1="211.9" y1="756.3" x2="214.4" y2="756.3" stroke="#222" stroke-width="1"/>
<line x1="211.9" y1="748.4" x2="214.4" y2="748.4" stroke="#222" stroke-width="1"/>
<line x1="211.9" y1="740.5" x2="214.4" y2="740.5" stroke="#222" stroke-width="1"/>
<line x1="209.6" y1="732.6" x2="214.4" y2="732.6" stroke="#222" stroke-width="1"/>
<line x1="211.9" y1="724.7" x2="214.4" y2="724.7" stroke="#222" stroke-width="1"/>
<line x1="211.9" y1="716.8" x2="214.4" y2="716.8" stroke="#222" stroke-width="1"/>
<line x1="211.9" y1="708.9" x2="214.4" y2="708.9" stroke="#222" stroke-width="1"/>
<line x1="209.6" y1="701" x2="214.4" y2="701" stroke="#222" stroke-width="1"/>
<line x1="211.9" y1="693.1" x2="214.4" y2="693.1" stroke="#222" stroke-width="1"/>
<line x1="211.9" y1="685.2" x2="214.4" y2="685.2" stroke="#222" stroke-width="1"/>
<line x1="211.9" y1="677.3" x2="214.4" y2="677.3" stroke="#222" stroke-width="1"/>
<line x1="209.6" y1="669.4" x2="214.4" y2="669.4" stroke="#222" stroke-width="1"/>
<rect x="409.4" y="685.1" width="81.8" height="12.8" fill="#f7c582"/>
<rect x="409.4" y="741" width="81.8" height="8.6" fill="#88d3da"/>
<rect x="409.4" y="723.2" width="81.8" height="2.3" fill="#7f7f82"/>
<line x1="409.4" y1="730.2" x2="491.2" y2="730.2" stroke="#c4c4c4" stroke-width="0.9"/>
<line x1="409.4" y1="753.5" x2="491.2" y2="753.5" stroke="#cdcdcd" stroke-width="1.4"/>
<line x1="409.4" y1="773.4" x2="491.2" y2="773.4" stroke="#c6c6c6" stroke-width="0.8"/>
<line x1="409.4" y1="775.4" x2="491.2" y2="775.4" stroke="#c6c6c6" stroke-width="0.8"/>
<line x1="409.4" y1="777.3" x2="491.2" y2="777.3" stroke="#c2c2c2" stroke-width="0.8"/>
<line x1="404.6" y1="795.8" x2="409.4" y2="795.8" stroke="#222" stroke-width="1"/>
<line x1="406.9" y1="787.9" x2="409.4" y2="787.9" stroke="#222" stroke-width="1"/>
<line x1="406.9" y1="780" x2="409.4" y2="780" stroke="#222" stroke-width="1"/>
<line x1="406.9" y1="772.1" x2="409.4" y2="772.1" stroke="#222" stroke-width="1"/>
<line x1="404.6" y1="764.2" x2="409.4" y2="764.2" stroke="#222" stroke-width="1"/>
<line x1="406.9" y1="756.3" x2="409.4" y2="756.3" stroke="#222" stroke-width="1"/>
<line x1="406.9" y1="748.4" x2="409.4" y2="748.4" stroke="#222" stroke-width="1"/>
<line x1="406.9" y1="740.5" x2="409.4" y2="740.5" stroke="#222" stroke-width="1"/>
<line x1="404.6" y1="732.6" x2="409.4" y2="732.6" stroke="#222" stroke-width="1"/>
<line x1="406.9" y1="724.7" x2="409.4" y2="724.7" stroke="#222" stroke-width="1"/>
<line x1="406.9" y1="716.8" x2="409.4" y2="716.8" stroke="#222" stroke-width="1"/>
<line x1="406.9" y1="708.9" x2="409.4" y2="708.9" stroke="#222" stroke-width="1"/>
<line x1="404.6" y1="701" x2="409.4" y2="701" stroke="#222" stroke-width="1"/>
<line x1="406.9" y1="693.1" x2="409.4" y2="693.1" stroke="#222" stroke-width="1"/>
<line x1="406.9" y1="685.2" x2="409.4" y2="685.2" stroke="#222" stroke-width="1"/>
<line x1="406.9" y1="677.3" x2="409.4" y2="677.3" stroke="#222" stroke-width="1"/>
<line x1="404.6" y1="669.4" x2="409.4" y2="669.4" stroke="#222" stroke-width="1"/>
<rect x="518.1" y="685.1" width="65.1" height="12.8" fill="#f7c582"/>
<rect x="518.1" y="741" width="65.1" height="8.6" fill="#88d3da"/>
<rect x="518.1" y="723.2" width="65.1" height="2.3" fill="#7f7f82"/>
<line x1="518.1" y1="730.2" x2="583.2" y2="730.2" stroke="#c4c4c4" stroke-width="0.9"/>
<line x1="518.1" y1="753.5" x2="583.2" y2="753.5" stroke="#cdcdcd" stroke-width="1.4"/>
<line x1="518.1" y1="773.4" x2="583.2" y2="773.4" stroke="#c6c6c6" stroke-width="0.8"/>
<line x1="518.1" y1="775.4" x2="583.2" y2="775.4" stroke="#c6c6c6" stroke-width="0.8"/>
<line x1="518.1" y1="777.3" x2="583.2" y2="777.3" stroke="#c2c2c2" stroke-width="0.8"/>
<line x1="513.3" y1="795.8" x2="518.1" y2="795.8" stroke="#222" stroke-width="1"/>
<line x1="515.6" y1="787.9" x2="518.1" y2="787.9" stroke="#222" stroke-width="1"/>
<line x1="515.6" y1="780" x2="518.1" y2="780" stroke="#222" stroke-width="1"/>
<line x1="515.6" y1="772.1" x2="518.1" y2="772.1" stroke="#222" stroke-width="1"/>
<line x1="513.3" y1="764.2" x2="518.1" y2="764.2" stroke="#222" stroke-width="1"/>
<line x1="515.6" y1="756.3" x2="518.1" y2="756.3" stroke="#222" stroke-width="1"/>
<line x1="515.6" y1="748.4" x2="518.1" y2="748.4" stroke="#222" stroke-width="1"/>
<line x1="515.6" y1="740.5" x2="518.1" y2="740.5" stroke="#222" stroke-width="1"/>
<line x1="513.3" y1="732.6" x2="518.1" y2="732.6" stroke="#222" stroke-width="1"/>
<line x1="515.6" y1="724.7" x2="518.1" y2="724.7" stroke="#222" stroke-width="1"/>
<line x1="515.6" y1="716.8" x2="518.1" y2="716.8" stroke="#222" stroke-width="1"/>
<line x1="515.6" y1="708.9" x2="518.1" y2="708.9" stroke="#222" stroke-width="1"/>
<line x1="513.3" y1="701" x2="518.1" y2="701" stroke="#222" stroke-width="1"/>
<line x1="515.6" y1="693.1" x2="518.1" y2="693.1" stroke="#222" stroke-width="1"/>
<line x1="515.6" y1="685.2" x2="518.1" y2="685.2" stroke="#222" stroke-width="1"/>
<line x1="515.6" y1="677.3" x2="518.1" y2="677.3" stroke="#222" stroke-width="1"/>
<line x1="513.3" y1="669.4" x2="518.1" y2="669.4" stroke="#222" stroke-width="1"/>
<rect x="593.4" y="685.1" width="80.5" height="12.8" fill="#f7c582"/>
<rect x="593.4" y="741" width="80.5" height="8.6" fill="#88d3da"/>
<rect x="593.4" y="723.2" width="80.5" height="2.3" fill="#7f7f82"/>
<line x1="593.4" y1="730.2" x2="673.9" y2="730.2" stroke="#c4c4c4" stroke-width="0.9"/>
<line x1="593.4" y1="753.5" x2="673.9" y2="753.5" stroke="#cdcdcd" stroke-width="1.4"/>
<line x1="593.4" y1="773.4" x2="673.9" y2="773.4" stroke="#c6c6c6" stroke-width="0.8"/>
<line x1="593.4" y1="775.4" x2="673.9" y2="775.4" stroke="#c6c6c6" stroke-width="0.8"/>
<line x1="593.4" y1="777.3" x2="673.9" y2="777.3" stroke="#c2c2c2" stroke-width="0.8"/>
<line x1="588.6" y1="795.8" x2="593.4" y2="795.8" stroke="#222" stroke-width="1"/>
<line x1="590.9" y1="787.9" x2="593.4" y2="787.9" stroke="#222" stroke-width="1"/>
<line x1="590.9" y1="780" x2="593.4" y2="780" stroke="#222" stroke-width="1"/>
<line x1="590.9" y1="772.1" x2="593.4" y2="772.1" stroke="#222" stroke-width="1"/>
<line x1="588.6" y1="764.2" x2="593.4" y2="764.2" stroke="#222" stroke-width="1"/>
<line x1="590.9" y1="756.3" x2="593.4" y2="756.3" stroke="#222" stroke-width="1"/>
<line x1="590.9" y1="748.4" x2="593.4" y2="748.4" stroke="#222" stroke-width="1"/>
<line x1="590.9" y1="740.5" x2="593.4" y2="740.5" stroke="#222" stroke-width="1"/>
<line x1="588.6" y1="732.6" x2="593.4" y2="732.6" stroke="#222" stroke-width="1"/>
<line x1="590.9" y1="724.7" x2="593.4" y2="724.7" stroke="#222" stroke-width="1"/>
<line x1="590.9" y1="716.8" x2="593.4" y2="716.8" stroke="#222" stroke-width="1"/>
<line x1="590.9" y1="708.9" x2="593.4" y2="708.9" stroke="#222" stroke-width="1"/>
<line x1="588.6" y1="701" x2="593.4" y2="701" stroke="#222" stroke-width="1"/>
<line x1="590.9" y1="693.1" x2="593.4" y2="693.1" stroke="#222" stroke-width="1"/>
<line x1="590.9" y1="685.2" x2="593.4" y2="685.2" stroke="#222" stroke-width="1"/>
<line x1="590.9" y1="677.3" x2="593.4" y2="677.3" stroke="#222" stroke-width="1"/>
<line x1="588.6" y1="669.4" x2="593.4" y2="669.4" stroke="#222" stroke-width="1"/>
<line x1="85.2" y1="793.6" x2="179.5" y2="702.4" stroke="#7850af" stroke-width="1.6" stroke-linecap="round"/>
<line x1="180.1" y1="682.1" x2="190" y2="671.8" stroke="#7850af" stroke-width="1.6" stroke-linecap="round"/>
<line x1="180.3" y1="672.6" x2="181.7" y2="671.2" stroke="#7850af" stroke-width="1.2" stroke-linecap="round"/>
<line x1="188.3" y1="682.1" x2="190" y2="680.7" stroke="#7850af" stroke-width="1.2" stroke-linecap="round"/>
<rect x="107.3" y="766.9" width="4.3" height="4.3" fill="#7850af"/>
<line x1="73.8" y1="739.5" x2="77" y2="733.2" stroke="#7850af" stroke-width="1.62" stroke-linecap="round"/>
<circle cx="74.76" cy="729.6" r="0.55" fill="#7850af"/>
<circle cx="74.76" cy="740.9" r="0.55" fill="#7850af"/>
<line x1="78.4" y1="739.5" x2="81.6" y2="733.2" stroke="#7850af" stroke-width="1.62" stroke-linecap="round"/>
<circle cx="79.36" cy="729.6" r="0.55" fill="#7850af"/>
<circle cx="79.36" cy="740.9" r="0.55" fill="#7850af"/>
<line x1="83" y1="739.5" x2="86.2" y2="733.2" stroke="#7850af" stroke-width="1.62" stroke-linecap="round"/>
<circle cx="83.96" cy="729.6" r="0.55" fill="#7850af"/>
<circle cx="83.96" cy="740.9" r="0.55" fill="#7850af"/>
<line x1="111.2" y1="734.1" x2="114.4" y2="740.1" stroke="#2e9a6e" stroke-width="1.62" stroke-linecap="round"/>
<circle cx="112.16" cy="730.5" r="0.55" fill="#2e9a6e"/>
<line x1="115.8" y1="734.1" x2="119" y2="740.1" stroke="#2e9a6e" stroke-width="1.62" stroke-linecap="round"/>
<circle cx="116.76" cy="730.5" r="0.55" fill="#2e9a6e"/>
<line x1="135.5" y1="740.1" x2="138.7" y2="731.8" stroke="#7850af" stroke-width="1.62" stroke-linecap="round"/>
<circle cx="136.46" cy="728.2" r="0.55" fill="#7850af"/>
<circle cx="136.46" cy="741.5" r="0.55" fill="#7850af"/>
<line x1="140.1" y1="740.1" x2="143.3" y2="731.8" stroke="#7850af" stroke-width="1.62" stroke-linecap="round"/>
<circle cx="141.06" cy="728.2" r="0.55" fill="#7850af"/>
<circle cx="141.06" cy="741.5" r="0.55" fill="#7850af"/>
<line x1="144.7" y1="740.1" x2="147.9" y2="731.8" stroke="#7850af" stroke-width="1.62" stroke-linecap="round"/>
<circle cx="145.66" cy="728.2" r="0.55" fill="#7850af"/>
<circle cx="145.66" cy="741.5" r="0.55" fill="#7850af"/>
<line x1="149.3" y1="740.1" x2="152.5" y2="731.8" stroke="#7850af" stroke-width="1.62" stroke-linecap="round"/>
<circle cx="150.26" cy="728.2" r="0.55" fill="#7850af"/>
<circle cx="150.26" cy="741.5" r="0.55" fill="#7850af"/>
<line x1="72.8" y1="760.2" x2="76" y2="766.1" stroke="#2e9a6e" stroke-width="1.62" stroke-linecap="round"/>
<circle cx="73.76" cy="756.6" r="0.55" fill="#2e9a6e"/>
<line x1="77.4" y1="760.2" x2="80.6" y2="766.1" stroke="#2e9a6e" stroke-width="1.62" stroke-linecap="round"/>
<circle cx="78.36" cy="756.6" r="0.55" fill="#2e9a6e"/>
<line x1="82" y1="760.2" x2="85.2" y2="766.1" stroke="#2e9a6e" stroke-width="1.62" stroke-linecap="round"/>
<circle cx="82.96" cy="756.6" r="0.55" fill="#2e9a6e"/>
<line x1="135.5" y1="759.7" x2="138.7" y2="765.8" stroke="#2e9a6e" stroke-width="1.62" stroke-linecap="round"/>
<circle cx="136.46" cy="756.1" r="0.55" fill="#2e9a6e"/>
<line x1="140.1" y1="759.7" x2="143.3" y2="765.8" stroke="#2e9a6e" stroke-width="1.62" stroke-linecap="round"/>
<circle cx="141.06" cy="756.1" r="0.55" fill="#2e9a6e"/>
<line x1="144.7" y1="759.7" x2="147.9" y2="765.8" stroke="#2e9a6e" stroke-width="1.62" stroke-linecap="round"/>
<circle cx="145.66" cy="756.1" r="0.55" fill="#2e9a6e"/>
<line x1="73.2" y1="793.8" x2="75.8" y2="791.4" stroke="#7850af" stroke-width="1.5" stroke-linecap="round"/>
<circle cx="74.4" cy="795.5" r="0.75" fill="#7850af"/>
<circle cx="74.4" cy="797" r="0.7" fill="#7850af"/>
<circle cx="76.6" cy="795.8" r="0.45" fill="#7850af"/>
<line x1="78.1" y1="793.8" x2="80.7" y2="791.4" stroke="#7850af" stroke-width="1.5" stroke-linecap="round"/>
<circle cx="79.3" cy="795.5" r="0.75" fill="#7850af"/>
<circle cx="79.3" cy="797" r="0.7" fill="#7850af"/>
<circle cx="81.5" cy="795.8" r="0.45" fill="#7850af"/>
<line x1="111.3" y1="792" x2="114.5" y2="797.4" stroke="#2e9a6e" stroke-width="1.5" stroke-linecap="round"/>
<circle cx="112.26" cy="788.4" r="0.55" fill="#2e9a6e"/>
<line x1="115.9" y1="792" x2="119.1" y2="797.4" stroke="#2e9a6e" stroke-width="1.5" stroke-linecap="round"/>
<circle cx="116.86" cy="788.4" r="0.55" fill="#2e9a6e"/>
<line x1="135.8" y1="793.2" x2="138.4" y2="790.8" stroke="#7850af" stroke-width="1.5" stroke-linecap="round"/>
<circle cx="137" cy="794.9" r="0.75" fill="#7850af"/>
<circle cx="137" cy="796.4" r="0.7" fill="#7850af"/>
<circle cx="139.2" cy="795.2" r="0.45" fill="#7850af"/>
<line x1="140.7" y1="793.2" x2="143.3" y2="790.8" stroke="#7850af" stroke-width="1.5" stroke-linecap="round"/>
<circle cx="141.9" cy="794.9" r="0.75" fill="#7850af"/>
<circle cx="141.9" cy="796.4" r="0.7" fill="#7850af"/>
<circle cx="144.1" cy="795.2" r="0.45" fill="#7850af"/>
<line x1="145.6" y1="793.2" x2="148.2" y2="790.8" stroke="#7850af" stroke-width="1.5" stroke-linecap="round"/>
<circle cx="146.8" cy="794.9" r="0.75" fill="#7850af"/>
<circle cx="146.8" cy="796.4" r="0.7" fill="#7850af"/>
<circle cx="149" cy="795.2" r="0.45" fill="#7850af"/>
<line x1="150.5" y1="793.2" x2="153.1" y2="790.8" stroke="#7850af" stroke-width="1.5" stroke-linecap="round"/>
<circle cx="151.7" cy="794.9" r="0.75" fill="#7850af"/>
<circle cx="151.7" cy="796.4" r="0.7" fill="#7850af"/>
<circle cx="153.9" cy="795.2" r="0.45" fill="#7850af"/>
<line x1="118.9" y1="768.1" x2="119.3" y2="771.5" stroke="#7850af" stroke-width="1.1" stroke-linecap="round"/>
<line x1="107.5" y1="758.5" x2="109.5" y2="758.5" stroke="#7850af" stroke-width="1" stroke-linecap="round"/>
<circle cx="75" cy="689" r="0.5" fill="#7850af"/>
<circle cx="80.5" cy="689" r="0.5" fill="#7850af"/>
<circle cx="86" cy="689" r="0.5" fill="#7850af"/>
<circle cx="75" cy="701.5" r="0.6" fill="#2e9a6e"/>
<circle cx="80.5" cy="701.5" r="0.6" fill="#2e9a6e"/>
<circle cx="86" cy="701.5" r="0.6" fill="#2e9a6e"/>
<circle cx="136" cy="689" r="0.5" fill="#7850af"/>
<circle cx="146" cy="689" r="0.5" fill="#7850af"/>
<circle cx="135" cy="702.3" r="0.5" fill="#2e9a6e"/>
<circle cx="142" cy="702.3" r="0.5" fill="#2e9a6e"/>
<circle cx="149" cy="702.3" r="0.5" fill="#2e9a6e"/>
<circle cx="156" cy="702.3" r="0.5" fill="#2e9a6e"/>
<circle cx="75" cy="728.6" r="0.5" fill="#7850af"/>
<circle cx="80.5" cy="728.6" r="0.5" fill="#7850af"/>
<circle cx="86" cy="728.6" r="0.5" fill="#7850af"/>
<circle cx="136" cy="728.6" r="0.5" fill="#2e9a6e"/>
<circle cx="142.67" cy="728.6" r="0.5" fill="#2e9a6e"/>
<circle cx="149.33" cy="728.6" r="0.5" fill="#2e9a6e"/>
<circle cx="156" cy="728.6" r="0.5" fill="#2e9a6e"/>
<circle cx="159.9" cy="675.9" r="0.8" fill="#2e9a6e"/>
<circle cx="186.2" cy="723.3" r="0.8" fill="#2e9a6e"/>
<circle cx="87.1" cy="752.5" r="0.7" fill="#2e9a6e"/>
<circle cx="125" cy="790.9" r="0.7" fill="#2e9a6e"/>
<circle cx="113.6" cy="759.6" r="0.5" fill="#7850af"/>
<circle cx="97" cy="689.8" r="0.5" fill="#2e9a6e"/>
<circle cx="115" cy="689" r="0.5" fill="#2e9a6e"/>
<circle cx="105" cy="714" r="0.7" fill="#7850af"/>
<circle cx="120.5" cy="711.5" r="0.6" fill="#7850af"/>
<circle cx="112" cy="702" r="0.9" fill="#7850af"/>
<circle cx="178.5" cy="734.5" r="0.5" fill="#7850af"/>
<circle cx="178" cy="764" r="0.5" fill="#7850af"/>
<line x1="215.2" y1="793.6" x2="266.2" y2="751.1" stroke="#7850af" stroke-width="1.6" stroke-linecap="round"/>
<line x1="271.4" y1="750.2" x2="287.9" y2="731.8" stroke="#7850af" stroke-width="1.6" stroke-linecap="round"/>
<line x1="316.8" y1="732.7" x2="352.6" y2="697.9" stroke="#7850af" stroke-width="1.6" stroke-linecap="round"/>
<line x1="356.7" y1="697.2" x2="383.8" y2="670.3" stroke="#7850af" stroke-width="1.6" stroke-linecap="round"/>
<line x1="372.7" y1="671.9" x2="374.7" y2="670.8" stroke="#7850af" stroke-width="1.2" stroke-linecap="round"/>
<line x1="381.7" y1="681.4" x2="383.5" y2="679.6" stroke="#7850af" stroke-width="1.2" stroke-linecap="round"/>
<rect x="246.2" y="766" width="4.3" height="4.3" fill="#7850af"/>
<line x1="215.2" y1="739.4" x2="218.4" y2="732.9" stroke="#7850af" stroke-width="1.62" stroke-linecap="round"/>
<circle cx="216.16" cy="729.3" r="0.55" fill="#7850af"/>
<circle cx="216.16" cy="740.8" r="0.55" fill="#7850af"/>
<line x1="219.8" y1="739.4" x2="223" y2="732.9" stroke="#7850af" stroke-width="1.62" stroke-linecap="round"/>
<circle cx="220.76" cy="729.3" r="0.55" fill="#7850af"/>
<circle cx="220.76" cy="740.8" r="0.55" fill="#7850af"/>
<line x1="224.4" y1="739.4" x2="227.6" y2="732.9" stroke="#7850af" stroke-width="1.62" stroke-linecap="round"/>
<circle cx="225.36" cy="729.3" r="0.55" fill="#7850af"/>
<circle cx="225.36" cy="740.8" r="0.55" fill="#7850af"/>
<line x1="250.5" y1="733.6" x2="253.7" y2="739.4" stroke="#2e9a6e" stroke-width="1.62" stroke-linecap="round"/>
<circle cx="251.46" cy="730" r="0.55" fill="#2e9a6e"/>
<line x1="255.1" y1="733.6" x2="258.3" y2="739.4" stroke="#2e9a6e" stroke-width="1.62" stroke-linecap="round"/>
<circle cx="256.06" cy="730" r="0.55" fill="#2e9a6e"/>
<line x1="266" y1="732.3" x2="269.2" y2="738.8" stroke="#2e9a6e" stroke-width="1.62" stroke-linecap="round"/>
<circle cx="266.96" cy="728.7" r="0.55" fill="#2e9a6e"/>
<line x1="281" y1="736.4" x2="284.2" y2="732.1" stroke="#7850af" stroke-width="1.62" stroke-linecap="round"/>
<circle cx="281.96" cy="728.5" r="0.55" fill="#7850af"/>
<circle cx="281.96" cy="737.8" r="0.55" fill="#7850af"/>
<line x1="285.6" y1="736.4" x2="288.8" y2="732.1" stroke="#7850af" stroke-width="1.62" stroke-linecap="round"/>
<circle cx="286.56" cy="728.5" r="0.55" fill="#7850af"/>
<circle cx="286.56" cy="737.8" r="0.55" fill="#7850af"/>
<line x1="290.2" y1="736.4" x2="293.4" y2="732.1" stroke="#7850af" stroke-width="1.62" stroke-linecap="round"/>
<circle cx="291.16" cy="728.5" r="0.55" fill="#7850af"/>
<circle cx="291.16" cy="737.8" r="0.55" fill="#7850af"/>
<line x1="294.8" y1="736.4" x2="298" y2="732.1" stroke="#7850af" stroke-width="1.62" stroke-linecap="round"/>
<circle cx="295.76" cy="728.5" r="0.55" fill="#7850af"/>
<circle cx="295.76" cy="737.8" r="0.55" fill="#7850af"/>
<line x1="299.4" y1="736.4" x2="302.6" y2="732.1" stroke="#7850af" stroke-width="1.62" stroke-linecap="round"/>
<circle cx="300.36" cy="728.5" r="0.55" fill="#7850af"/>
<circle cx="300.36" cy="737.8" r="0.55" fill="#7850af"/>
<line x1="304" y1="736.4" x2="307.2" y2="732.1" stroke="#7850af" stroke-width="1.62" stroke-linecap="round"/>
<circle cx="304.96" cy="728.5" r="0.55" fill="#7850af"/>
<circle cx="304.96" cy="737.8" r="0.55" fill="#7850af"/>
<line x1="308.6" y1="736.4" x2="311.8" y2="732.1" stroke="#7850af" stroke-width="1.62" stroke-linecap="round"/>
<circle cx="309.56" cy="728.5" r="0.55" fill="#7850af"/>
<circle cx="309.56" cy="737.8" r="0.55" fill="#7850af"/>
<line x1="313.2" y1="736.4" x2="316.4" y2="732.1" stroke="#7850af" stroke-width="1.62" stroke-linecap="round"/>
<circle cx="314.16" cy="728.5" r="0.55" fill="#7850af"/>
<circle cx="314.16" cy="737.8" r="0.55" fill="#7850af"/>
<line x1="317.8" y1="736.4" x2="321" y2="732.1" stroke="#7850af" stroke-width="1.62" stroke-linecap="round"/>
<circle cx="318.76" cy="728.5" r="0.55" fill="#7850af"/>
<circle cx="318.76" cy="737.8" r="0.55" fill="#7850af"/>
<line x1="215.2" y1="759.9" x2="218.4" y2="765.1" stroke="#2e9a6e" stroke-width="1.62" stroke-linecap="round"/>
<circle cx="216.16" cy="756.3" r="0.55" fill="#2e9a6e"/>
<line x1="219.8" y1="759.9" x2="223" y2="765.1" stroke="#2e9a6e" stroke-width="1.62" stroke-linecap="round"/>
<circle cx="220.76" cy="756.3" r="0.55" fill="#2e9a6e"/>
<line x1="224.4" y1="759.9" x2="227.6" y2="765.1" stroke="#2e9a6e" stroke-width="1.62" stroke-linecap="round"/>
<circle cx="225.36" cy="756.3" r="0.55" fill="#2e9a6e"/>
<line x1="266" y1="763.9" x2="269" y2="759.9" stroke="#7850af" stroke-width="1.5" stroke-linecap="round"/>
<circle cx="266.9" cy="756.3" r="0.55" fill="#7850af"/>
<circle cx="266.9" cy="765.3" r="0.55" fill="#7850af"/>
<line x1="280" y1="759.6" x2="283.2" y2="764.9" stroke="#2e9a6e" stroke-width="1.75" stroke-linecap="round"/>
<circle cx="280.96" cy="756" r="0.55" fill="#2e9a6e"/>
<line x1="284.6" y1="759.6" x2="287.8" y2="764.9" stroke="#2e9a6e" stroke-width="1.75" stroke-linecap="round"/>
<circle cx="285.56" cy="756" r="0.55" fill="#2e9a6e"/>
<line x1="289.2" y1="759.6" x2="292.4" y2="764.9" stroke="#2e9a6e" stroke-width="1.75" stroke-linecap="round"/>
<circle cx="290.16" cy="756" r="0.55" fill="#2e9a6e"/>
<line x1="293.8" y1="759.6" x2="297" y2="764.9" stroke="#2e9a6e" stroke-width="1.75" stroke-linecap="round"/>
<circle cx="294.76" cy="756" r="0.55" fill="#2e9a6e"/>
<line x1="298.4" y1="759.6" x2="301.6" y2="764.9" stroke="#2e9a6e" stroke-width="1.75" stroke-linecap="round"/>
<circle cx="299.36" cy="756" r="0.55" fill="#2e9a6e"/>
<line x1="303" y1="759.6" x2="306.2" y2="764.9" stroke="#2e9a6e" stroke-width="1.75" stroke-linecap="round"/>
<circle cx="303.96" cy="756" r="0.55" fill="#2e9a6e"/>
<line x1="307.6" y1="759.6" x2="310.8" y2="764.9" stroke="#2e9a6e" stroke-width="1.75" stroke-linecap="round"/>
<circle cx="308.56" cy="756" r="0.55" fill="#2e9a6e"/>
<line x1="312.2" y1="759.6" x2="315.4" y2="764.9" stroke="#2e9a6e" stroke-width="1.75" stroke-linecap="round"/>
<circle cx="313.16" cy="756" r="0.55" fill="#2e9a6e"/>
<line x1="316.8" y1="759.6" x2="320" y2="764.9" stroke="#2e9a6e" stroke-width="1.75" stroke-linecap="round"/>
<circle cx="317.76" cy="756" r="0.55" fill="#2e9a6e"/>
<line x1="215.6" y1="793.4" x2="218.2" y2="791" stroke="#7850af" stroke-width="1.5" stroke-linecap="round"/>
<circle cx="216.8" cy="795.1" r="0.75" fill="#7850af"/>
<circle cx="216.8" cy="796.6" r="0.7" fill="#7850af"/>
<circle cx="219" cy="795.4" r="0.45" fill="#7850af"/>
<line x1="220.5" y1="793.4" x2="223.1" y2="791" stroke="#7850af" stroke-width="1.5" stroke-linecap="round"/>
<circle cx="221.7" cy="795.1" r="0.75" fill="#7850af"/>
<circle cx="221.7" cy="796.6" r="0.7" fill="#7850af"/>
<circle cx="223.9" cy="795.4" r="0.45" fill="#7850af"/>
<line x1="225.4" y1="793.4" x2="228" y2="791" stroke="#7850af" stroke-width="1.5" stroke-linecap="round"/>
<circle cx="226.6" cy="795.1" r="0.75" fill="#7850af"/>
<circle cx="226.6" cy="796.6" r="0.7" fill="#7850af"/>
<circle cx="228.8" cy="795.4" r="0.45" fill="#7850af"/>
<line x1="249.9" y1="791.4" x2="253.1" y2="796.6" stroke="#2e9a6e" stroke-width="1.5" stroke-linecap="round"/>
<circle cx="250.86" cy="787.8" r="0.55" fill="#2e9a6e"/>
<line x1="254.5" y1="791.4" x2="257.7" y2="796.6" stroke="#2e9a6e" stroke-width="1.5" stroke-linecap="round"/>
<circle cx="255.46" cy="787.8" r="0.55" fill="#2e9a6e"/>
<line x1="262.7" y1="789.8" x2="265.9" y2="796.6" stroke="#2e9a6e" stroke-width="1.5" stroke-linecap="round"/>
<circle cx="263.66" cy="786.2" r="0.55" fill="#2e9a6e"/>
<line x1="267.3" y1="789.8" x2="270.5" y2="796.6" stroke="#2e9a6e" stroke-width="1.5" stroke-linecap="round"/>
<circle cx="268.26" cy="786.2" r="0.55" fill="#2e9a6e"/>
<line x1="280.6" y1="793.6" x2="283.2" y2="791.2" stroke="#7850af" stroke-width="1.5" stroke-linecap="round"/>
<circle cx="281.8" cy="795.3" r="0.75" fill="#7850af"/>
<circle cx="281.8" cy="796.8" r="0.7" fill="#7850af"/>
<circle cx="284" cy="795.6" r="0.45" fill="#7850af"/>
<line x1="285.5" y1="793.6" x2="288.1" y2="791.2" stroke="#7850af" stroke-width="1.5" stroke-linecap="round"/>
<circle cx="286.7" cy="795.3" r="0.75" fill="#7850af"/>
<circle cx="286.7" cy="796.8" r="0.7" fill="#7850af"/>
<circle cx="288.9" cy="795.6" r="0.45" fill="#7850af"/>
<line x1="290.4" y1="793.6" x2="293" y2="791.2" stroke="#7850af" stroke-width="1.5" stroke-linecap="round"/>
<circle cx="291.6" cy="795.3" r="0.75" fill="#7850af"/>
<circle cx="291.6" cy="796.8" r="0.7" fill="#7850af"/>
<circle cx="293.8" cy="795.6" r="0.45" fill="#7850af"/>
<line x1="295.3" y1="793.6" x2="297.9" y2="791.2" stroke="#7850af" stroke-width="1.5" stroke-linecap="round"/>
<circle cx="296.5" cy="795.3" r="0.75" fill="#7850af"/>
<circle cx="296.5" cy="796.8" r="0.7" fill="#7850af"/>
<circle cx="298.7" cy="795.6" r="0.45" fill="#7850af"/>
<line x1="300.2" y1="793.6" x2="302.8" y2="791.2" stroke="#7850af" stroke-width="1.5" stroke-linecap="round"/>
<circle cx="301.4" cy="795.3" r="0.75" fill="#7850af"/>
<circle cx="301.4" cy="796.8" r="0.7" fill="#7850af"/>
<circle cx="303.6" cy="795.6" r="0.45" fill="#7850af"/>
<line x1="305.1" y1="793.6" x2="307.7" y2="791.2" stroke="#7850af" stroke-width="1.5" stroke-linecap="round"/>
<circle cx="306.3" cy="795.3" r="0.75" fill="#7850af"/>
<circle cx="306.3" cy="796.8" r="0.7" fill="#7850af"/>
<circle cx="308.5" cy="795.6" r="0.45" fill="#7850af"/>
<line x1="310" y1="793.6" x2="312.6" y2="791.2" stroke="#7850af" stroke-width="1.5" stroke-linecap="round"/>
<circle cx="311.2" cy="795.3" r="0.75" fill="#7850af"/>
<circle cx="311.2" cy="796.8" r="0.7" fill="#7850af"/>
<circle cx="313.4" cy="795.6" r="0.45" fill="#7850af"/>
<line x1="314.9" y1="793.6" x2="317.5" y2="791.2" stroke="#7850af" stroke-width="1.5" stroke-linecap="round"/>
<circle cx="316.1" cy="795.3" r="0.75" fill="#7850af"/>
<circle cx="316.1" cy="796.8" r="0.7" fill="#7850af"/>
<circle cx="318.3" cy="795.6" r="0.45" fill="#7850af"/>
<line x1="319.8" y1="793.6" x2="322.4" y2="791.2" stroke="#7850af" stroke-width="1.5" stroke-linecap="round"/>
<circle cx="321" cy="795.3" r="0.75" fill="#7850af"/>
<circle cx="321" cy="796.8" r="0.7" fill="#7850af"/>
<circle cx="323.2" cy="795.6" r="0.45" fill="#7850af"/>
<circle cx="281" cy="738.3" r="0.5" fill="#7850af"/>
<circle cx="285.78" cy="738.3" r="0.5" fill="#7850af"/>
<circle cx="290.56" cy="738.3" r="0.5" fill="#7850af"/>
<circle cx="295.33" cy="738.3" r="0.5" fill="#7850af"/>
<circle cx="300.11" cy="738.3" r="0.5" fill="#7850af"/>
<circle cx="304.89" cy="738.3" r="0.5" fill="#7850af"/>
<circle cx="309.67" cy="738.3" r="0.5" fill="#7850af"/>
<circle cx="314.44" cy="738.3" r="0.5" fill="#7850af"/>
<circle cx="319.22" cy="738.3" r="0.5" fill="#7850af"/>
<circle cx="324" cy="738.3" r="0.5" fill="#7850af"/>
<line x1="246" y1="757.4" x2="250" y2="757.4" stroke="#7850af" stroke-width="0.9" stroke-linecap="round"/>
<line x1="258.2" y1="764.5" x2="258.2" y2="770.9" stroke="#7850af" stroke-width="1" stroke-linecap="round"/>
<circle cx="217" cy="727.8" r="0.5" fill="#7850af"/>
<circle cx="221.5" cy="727.8" r="0.5" fill="#7850af"/>
<circle cx="226" cy="727.8" r="0.5" fill="#7850af"/>
<circle cx="297" cy="727.8" r="0.5" fill="#7850af"/>
<circle cx="301.2" cy="727.8" r="0.5" fill="#7850af"/>
<circle cx="305.4" cy="727.8" r="0.5" fill="#7850af"/>
<circle cx="309.6" cy="727.8" r="0.5" fill="#7850af"/>
<circle cx="313.8" cy="727.8" r="0.5" fill="#7850af"/>
<circle cx="318" cy="727.8" r="0.5" fill="#7850af"/>
<circle cx="296" cy="701.3" r="0.5" fill="#2e9a6e"/>
<circle cx="300.4" cy="701.3" r="0.5" fill="#2e9a6e"/>
<circle cx="304.8" cy="701.3" r="0.5" fill="#2e9a6e"/>
<circle cx="309.2" cy="701.3" r="0.5" fill="#2e9a6e"/>
<circle cx="313.6" cy="701.3" r="0.5" fill="#2e9a6e"/>
<circle cx="318" cy="701.3" r="0.5" fill="#2e9a6e"/>
<circle cx="297" cy="688.3" r="0.5" fill="#7850af"/>
<circle cx="302" cy="688.3" r="0.5" fill="#7850af"/>
<circle cx="307" cy="688.3" r="0.5" fill="#7850af"/>
<circle cx="312" cy="688.3" r="0.5" fill="#7850af"/>
<circle cx="217" cy="701.3" r="0.6" fill="#2e9a6e"/>
<circle cx="220.5" cy="701.3" r="0.6" fill="#2e9a6e"/>
<circle cx="224" cy="701.3" r="0.6" fill="#2e9a6e"/>
<circle cx="251" cy="701.3" r="0.5" fill="#2e9a6e"/>
<circle cx="262" cy="701.3" r="0.5" fill="#2e9a6e"/>
<circle cx="280" cy="701.3" r="0.5" fill="#2e9a6e"/>
<circle cx="285" cy="701.3" r="0.5" fill="#2e9a6e"/>
<circle cx="290" cy="701.3" r="0.5" fill="#2e9a6e"/>
<circle cx="226" cy="688.3" r="0.45" fill="#7850af"/>
<circle cx="240.25" cy="688.3" r="0.45" fill="#7850af"/>
<circle cx="254.5" cy="688.3" r="0.45" fill="#7850af"/>
<circle cx="268.75" cy="688.3" r="0.45" fill="#7850af"/>
<circle cx="283" cy="688.3" r="0.45" fill="#7850af"/>
<circle cx="251" cy="727.8" r="0.5" fill="#2e9a6e"/>
<circle cx="257" cy="727.8" r="0.5" fill="#2e9a6e"/>
<circle cx="270" cy="727.8" r="0.5" fill="#2e9a6e"/>
<circle cx="328.3" cy="674.7" r="0.8" fill="#2e9a6e"/>
<circle cx="378.9" cy="722.6" r="0.8" fill="#2e9a6e"/>
<circle cx="227.2" cy="751.6" r="0.7" fill="#2e9a6e"/>
<circle cx="352.6" cy="690.7" r="0.6" fill="#7850af"/>
<line x1="322.7" y1="700.8" x2="324.1" y2="702.2" stroke="#7850af" stroke-width="1" stroke-linecap="round"/>
<line x1="348.4" y1="764.2" x2="350" y2="763" stroke="#7850af" stroke-width="1.2" stroke-linecap="round"/>
<circle cx="329.7" cy="771.2" r="0.6" fill="#7850af"/>
<circle cx="366.4" cy="735.8" r="0.6" fill="#7850af"/>
<circle cx="349.1" cy="794.7" r="0.7" fill="#2e9a6e"/>
<circle cx="366.4" cy="792" r="0.5" fill="#7850af"/>
<circle cx="349.1" cy="727.5" r="0.5" fill="#2e9a6e"/>
<circle cx="349.1" cy="732.5" r="0.55" fill="#2e9a6e"/>
<circle cx="349.1" cy="737.5" r="0.55" fill="#2e9a6e"/>
<circle cx="245" cy="721" r="0.6" fill="#7850af"/>
<circle cx="258" cy="719.5" r="0.5" fill="#7850af"/>
<circle cx="270" cy="701" r="0.8" fill="#7850af"/>
<circle cx="438" cy="725.6" r="0.65" fill="#7850af"/>
<circle cx="434.6" cy="730.7" r="0.65" fill="#7850af"/>
<circle cx="433.3" cy="753.8" r="0.65" fill="#7850af"/>
<circle cx="436.6" cy="756.7" r="0.65" fill="#7850af"/>
<circle cx="432.5" cy="773.6" r="0.65" fill="#7850af"/>
<circle cx="431.9" cy="776.7" r="0.65" fill="#7850af"/>
<circle cx="430.5" cy="779.4" r="0.65" fill="#7850af"/>
<circle cx="435.6" cy="789" r="0.65" fill="#7850af"/>
<circle cx="435.6" cy="794.7" r="0.65" fill="#7850af"/>
<line x1="432" y1="775.5" x2="433" y2="773" stroke="#7850af" stroke-width="1" stroke-linecap="round"/>
<circle cx="529.2" cy="700.5" r="0.45" fill="#7850af"/>
<circle cx="533.9" cy="700.5" r="0.45" fill="#7850af"/>
<circle cx="538.6" cy="700.5" r="0.45" fill="#7850af"/>
<circle cx="544.6" cy="720.2" r="0.8" fill="#7850af"/>
<circle cx="529.2" cy="728.3" r="0.5" fill="#2e9a6e"/>
<circle cx="534.2" cy="728.3" r="0.5" fill="#2e9a6e"/>
<circle cx="539.2" cy="728.3" r="0.5" fill="#2e9a6e"/>
<circle cx="529.2" cy="733.7" r="0.5" fill="#2e9a6e"/>
<circle cx="534.2" cy="733.7" r="0.5" fill="#2e9a6e"/>
<circle cx="539.2" cy="733.7" r="0.5" fill="#2e9a6e"/>
<circle cx="529.2" cy="738.6" r="0.5" fill="#2e9a6e"/>
<circle cx="534.2" cy="738.6" r="0.5" fill="#2e9a6e"/>
<circle cx="539.2" cy="738.6" r="0.5" fill="#2e9a6e"/>
<circle cx="551.3" cy="727.5" r="0.45" fill="#7850af"/>
<circle cx="555.54" cy="727.5" r="0.45" fill="#7850af"/>
<circle cx="559.79" cy="727.5" r="0.45" fill="#7850af"/>
<circle cx="564.03" cy="727.5" r="0.45" fill="#7850af"/>
<circle cx="568.27" cy="727.5" r="0.45" fill="#7850af"/>
<circle cx="572.51" cy="727.5" r="0.45" fill="#7850af"/>
<circle cx="576.76" cy="727.5" r="0.45" fill="#7850af"/>
<circle cx="581" cy="727.5" r="0.45" fill="#7850af"/>
<circle cx="553" cy="728.3" r="0.4" fill="#2e9a6e"/>
<circle cx="559.75" cy="728.3" r="0.4" fill="#2e9a6e"/>
<circle cx="566.5" cy="728.3" r="0.4" fill="#2e9a6e"/>
<circle cx="573.25" cy="728.3" r="0.4" fill="#2e9a6e"/>
<circle cx="580" cy="728.3" r="0.4" fill="#2e9a6e"/>
<circle cx="554" cy="739.1" r="0.45" fill="#2e9a6e"/>
<circle cx="560.8" cy="739.1" r="0.45" fill="#2e9a6e"/>
<circle cx="548.6" cy="751.8" r="0.6" fill="#7850af"/>
<circle cx="551.09" cy="751.8" r="0.6" fill="#7850af"/>
<circle cx="553.58" cy="751.8" r="0.6" fill="#7850af"/>
<circle cx="556.08" cy="751.8" r="0.6" fill="#7850af"/>
<circle cx="558.57" cy="751.8" r="0.6" fill="#7850af"/>
<circle cx="561.06" cy="751.8" r="0.6" fill="#7850af"/>
<circle cx="563.55" cy="751.8" r="0.6" fill="#7850af"/>
<circle cx="566.05" cy="751.8" r="0.6" fill="#7850af"/>
<circle cx="568.54" cy="751.8" r="0.6" fill="#7850af"/>
<circle cx="571.03" cy="751.8" r="0.6" fill="#7850af"/>
<circle cx="573.52" cy="751.8" r="0.6" fill="#7850af"/>
<circle cx="576.02" cy="751.8" r="0.6" fill="#7850af"/>
<circle cx="578.51" cy="751.8" r="0.6" fill="#7850af"/>
<circle cx="581" cy="751.8" r="0.6" fill="#7850af"/>
<line x1="544.6" y1="756.1" x2="548.6" y2="753.4" stroke="#7850af" stroke-width="1.4" stroke-linecap="round"/>
<circle cx="529.2" cy="759.4" r="0.45" fill="#7850af"/>
<circle cx="534.2" cy="759.4" r="0.45" fill="#7850af"/>
<circle cx="539.2" cy="759.4" r="0.45" fill="#7850af"/>
<circle cx="529.2" cy="763.4" r="0.45" fill="#7850af"/>
<circle cx="534.2" cy="763.4" r="0.45" fill="#7850af"/>
<circle cx="539.2" cy="763.4" r="0.45" fill="#7850af"/>
<circle cx="569.7" cy="759.4" r="0.45" fill="#7850af"/>
<circle cx="570.2" cy="763.4" r="0.45" fill="#7850af"/>
<circle cx="581" cy="762.9" r="0.45" fill="#7850af"/>
<circle cx="557.5" cy="765.6" r="0.4" fill="#7850af"/>
<line x1="539.2" y1="777.5" x2="544.6" y2="771.5" stroke="#7850af" stroke-width="1.6" stroke-linecap="round"/>
<line x1="548.6" y1="787.8" x2="551.45" y2="791.6" stroke="#2e9a6e" stroke-width="1.62" stroke-linecap="round"/>
<line x1="553.2" y1="787.8" x2="556.05" y2="791.6" stroke="#2e9a6e" stroke-width="1.62" stroke-linecap="round"/>
<line x1="557.8" y1="787.8" x2="560.65" y2="791.6" stroke="#2e9a6e" stroke-width="1.62" stroke-linecap="round"/>
<line x1="562.4" y1="787.8" x2="565.25" y2="791.6" stroke="#2e9a6e" stroke-width="1.62" stroke-linecap="round"/>
<line x1="567" y1="787.8" x2="569.85" y2="791.6" stroke="#2e9a6e" stroke-width="1.62" stroke-linecap="round"/>
<line x1="571.6" y1="787.8" x2="574.45" y2="791.6" stroke="#2e9a6e" stroke-width="1.62" stroke-linecap="round"/>
<line x1="576.2" y1="787.8" x2="579.05" y2="791.6" stroke="#2e9a6e" stroke-width="1.62" stroke-linecap="round"/>
<circle cx="549" cy="795" r="0.5" fill="#2e9a6e"/>
<circle cx="553.57" cy="795" r="0.5" fill="#2e9a6e"/>
<circle cx="558.14" cy="795" r="0.5" fill="#2e9a6e"/>
<circle cx="562.71" cy="795" r="0.5" fill="#2e9a6e"/>
<circle cx="567.29" cy="795" r="0.5" fill="#2e9a6e"/>
<circle cx="571.86" cy="795" r="0.5" fill="#2e9a6e"/>
<circle cx="576.43" cy="795" r="0.5" fill="#2e9a6e"/>
<circle cx="581" cy="795" r="0.5" fill="#2e9a6e"/>
<circle cx="529.2" cy="797.2" r="0.5" fill="#2e9a6e"/>
<circle cx="534.2" cy="797.2" r="0.5" fill="#2e9a6e"/>
<circle cx="539.2" cy="797.2" r="0.5" fill="#2e9a6e"/>
<circle cx="634.2" cy="669.6" r="0.5" fill="#2e9a6e"/>
<line x1="614.8" y1="731.6" x2="618.8" y2="728.3" stroke="#7850af" stroke-width="1.5" stroke-linecap="round"/>
<circle cx="620.7" cy="725.6" r="0.6" fill="#7850af"/>
<circle cx="598.6" cy="728.3" r="0.5" fill="#2e9a6e"/>
<circle cx="602.2" cy="728.3" r="0.5" fill="#2e9a6e"/>
<circle cx="605.8" cy="728.3" r="0.5" fill="#2e9a6e"/>
<circle cx="609.4" cy="728.3" r="0.5" fill="#2e9a6e"/>
<circle cx="598.6" cy="739.1" r="0.7" fill="#2e9a6e"/>
<circle cx="598.6" cy="751.8" r="0.6" fill="#7850af"/>
<circle cx="603.3" cy="751.8" r="0.6" fill="#7850af"/>
<circle cx="608" cy="751.8" r="0.6" fill="#7850af"/>
<circle cx="606.7" cy="759.4" r="0.55" fill="#7850af"/>
<circle cx="608.7" cy="759.4" r="0.55" fill="#7850af"/>
<circle cx="610.7" cy="759.4" r="0.55" fill="#7850af"/>
<circle cx="607.5" cy="762.9" r="0.55" fill="#7850af"/>
<circle cx="609.1" cy="762.9" r="0.55" fill="#7850af"/>
<circle cx="610.7" cy="762.9" r="0.55" fill="#7850af"/>
<circle cx="598.6" cy="759.4" r="0.45" fill="#7850af"/>
<circle cx="598.6" cy="762.9" r="0.45" fill="#7850af"/>
<circle cx="618.8" cy="756.7" r="0.4" fill="#2e9a6e"/>
<line x1="598.6" y1="788.9" x2="600.62" y2="791.6" stroke="#2e9a6e" stroke-width="1.5" stroke-linecap="round"/>
<line x1="603.2" y1="788.9" x2="605.23" y2="791.6" stroke="#2e9a6e" stroke-width="1.5" stroke-linecap="round"/>
<circle cx="607.5" cy="797.2" r="0.7" fill="#2e9a6e"/>
<circle cx="618" cy="789.6" r="0.7" fill="#7850af"/>
<circle cx="618" cy="795" r="0.6" fill="#7850af"/>
<circle cx="598.6" cy="795.5" r="0.45" fill="#2e9a6e"/>
<circle cx="601.8" cy="795.5" r="0.45" fill="#2e9a6e"/>
<circle cx="605" cy="795.5" r="0.45" fill="#2e9a6e"/>
<rect x="72.5" y="669.4" width="117.8" height="131.6" fill="none" stroke="#111" stroke-width="1.2"/>
<rect x="214.4" y="669.4" width="170.2" height="131.6" fill="none" stroke="#111" stroke-width="1.2"/>
<rect x="409.4" y="669.4" width="81.8" height="131.6" fill="none" stroke="#111" stroke-width="1.2"/>
<rect x="518.1" y="669.4" width="65.1" height="131.6" fill="none" stroke="#111" stroke-width="1.2"/>
<rect x="593.4" y="669.4" width="80.5" height="131.6" fill="none" stroke="#111" stroke-width="1.2"/>
<line x1="78.3" y1="801" x2="78.3" y2="803.4" stroke="#222" stroke-width="0.9"/>
<line x1="86.1" y1="801" x2="86.1" y2="803.4" stroke="#222" stroke-width="0.9"/>
<line x1="93.9" y1="801" x2="93.9" y2="803.4" stroke="#222" stroke-width="0.9"/>
<line x1="101.4" y1="801" x2="101.4" y2="805.7" stroke="#222" stroke-width="0.9"/>
<line x1="109.2" y1="801" x2="109.2" y2="803.4" stroke="#222" stroke-width="0.9"/>
<line x1="117" y1="801" x2="117" y2="803.4" stroke="#222" stroke-width="0.9"/>
<line x1="124.7" y1="801" x2="124.7" y2="803.4" stroke="#222" stroke-width="0.9"/>
<line x1="132.4" y1="801" x2="132.4" y2="805.7" stroke="#222" stroke-width="0.9"/>
<line x1="140.2" y1="801" x2="140.2" y2="803.4" stroke="#222" stroke-width="0.9"/>
<line x1="148" y1="801" x2="148" y2="803.4" stroke="#222" stroke-width="0.9"/>
<line x1="155.7" y1="801" x2="155.7" y2="803.4" stroke="#222" stroke-width="0.9"/>
<line x1="163.3" y1="801" x2="163.3" y2="805.7" stroke="#222" stroke-width="0.9"/>
<line x1="171.1" y1="801" x2="171.1" y2="803.4" stroke="#222" stroke-width="0.9"/>
<line x1="178.9" y1="801" x2="178.9" y2="803.4" stroke="#222" stroke-width="0.9"/>
<line x1="186.6" y1="801" x2="186.6" y2="803.4" stroke="#222" stroke-width="0.9"/>
<line x1="218.9" y1="801" x2="218.9" y2="803.4" stroke="#222" stroke-width="0.9"/>
<line x1="226.6" y1="801" x2="226.6" y2="803.4" stroke="#222" stroke-width="0.9"/>
<line x1="234.3" y1="801" x2="234.3" y2="803.4" stroke="#222" stroke-width="0.9"/>
<line x1="241.5" y1="801" x2="241.5" y2="805.7" stroke="#222" stroke-width="0.9"/>
<line x1="249.3" y1="801" x2="249.3" y2="803.4" stroke="#222" stroke-width="0.9"/>
<line x1="257" y1="801" x2="257" y2="803.4" stroke="#222" stroke-width="0.9"/>
<line x1="264.7" y1="801" x2="264.7" y2="803.4" stroke="#222" stroke-width="0.9"/>
<line x1="272.4" y1="801" x2="272.4" y2="805.7" stroke="#222" stroke-width="0.9"/>
<line x1="280.3" y1="801" x2="280.3" y2="803.4" stroke="#222" stroke-width="0.9"/>
<line x1="288.1" y1="801" x2="288.1" y2="803.4" stroke="#222" stroke-width="0.9"/>
<line x1="295.9" y1="801" x2="295.9" y2="803.4" stroke="#222" stroke-width="0.9"/>
<line x1="303.7" y1="801" x2="303.7" y2="805.7" stroke="#222" stroke-width="0.9"/>
<line x1="311.5" y1="801" x2="311.5" y2="803.4" stroke="#222" stroke-width="0.9"/>
<line x1="319.3" y1="801" x2="319.3" y2="803.4" stroke="#222" stroke-width="0.9"/>
<line x1="327.1" y1="801" x2="327.1" y2="803.4" stroke="#222" stroke-width="0.9"/>
<line x1="334.9" y1="801" x2="334.9" y2="805.7" stroke="#222" stroke-width="0.9"/>
<line x1="342.7" y1="801" x2="342.7" y2="803.4" stroke="#222" stroke-width="0.9"/>
<line x1="350.5" y1="801" x2="350.5" y2="803.4" stroke="#222" stroke-width="0.9"/>
<line x1="358.3" y1="801" x2="358.3" y2="803.4" stroke="#222" stroke-width="0.9"/>
<line x1="366.1" y1="801" x2="366.1" y2="805.7" stroke="#222" stroke-width="0.9"/>
<line x1="373.9" y1="801" x2="373.9" y2="803.4" stroke="#222" stroke-width="0.9"/>
<line x1="381.7" y1="801" x2="381.7" y2="803.4" stroke="#222" stroke-width="0.9"/>
<line x1="417.4" y1="801" x2="417.4" y2="803.4" stroke="#222" stroke-width="0.9"/>
<line x1="425.2" y1="801" x2="425.2" y2="805.7" stroke="#222" stroke-width="0.9"/>
<line x1="433" y1="801" x2="433" y2="803.4" stroke="#222" stroke-width="0.9"/>
<line x1="440.8" y1="801" x2="440.8" y2="803.4" stroke="#222" stroke-width="0.9"/>
<line x1="448.6" y1="801" x2="448.6" y2="803.4" stroke="#222" stroke-width="0.9"/>
<line x1="456.4" y1="801" x2="456.4" y2="805.7" stroke="#222" stroke-width="0.9"/>
<line x1="464.2" y1="801" x2="464.2" y2="803.4" stroke="#222" stroke-width="0.9"/>
<line x1="472" y1="801" x2="472" y2="803.4" stroke="#222" stroke-width="0.9"/>
<line x1="479.8" y1="801" x2="479.8" y2="803.4" stroke="#222" stroke-width="0.9"/>
<line x1="487.7" y1="801" x2="487.7" y2="805.7" stroke="#222" stroke-width="0.9"/>
<line x1="522.4" y1="801" x2="522.4" y2="803.4" stroke="#222" stroke-width="0.9"/>
<line x1="529.9" y1="801" x2="529.9" y2="803.4" stroke="#222" stroke-width="0.9"/>
<line x1="537.3" y1="801" x2="537.3" y2="803.4" stroke="#222" stroke-width="0.9"/>
<line x1="544.7" y1="801" x2="544.7" y2="805.7" stroke="#222" stroke-width="0.9"/>
<line x1="552.5" y1="801" x2="552.5" y2="803.4" stroke="#222" stroke-width="0.9"/>
<line x1="560.3" y1="801" x2="560.3" y2="803.4" stroke="#222" stroke-width="0.9"/>
<line x1="568.1" y1="801" x2="568.1" y2="803.4" stroke="#222" stroke-width="0.9"/>
<line x1="575.8" y1="801" x2="575.8" y2="805.7" stroke="#222" stroke-width="0.9"/>
<line x1="600.6" y1="801" x2="600.6" y2="803.4" stroke="#222" stroke-width="0.9"/>
<line x1="608.7" y1="801" x2="608.7" y2="803.4" stroke="#222" stroke-width="0.9"/>
<line x1="616.7" y1="801" x2="616.7" y2="805.7" stroke="#222" stroke-width="0.9"/>
<line x1="624.4" y1="801" x2="624.4" y2="803.4" stroke="#222" stroke-width="0.9"/>
<line x1="632.1" y1="801" x2="632.1" y2="803.4" stroke="#222" stroke-width="0.9"/>
<line x1="639.9" y1="801" x2="639.9" y2="803.4" stroke="#222" stroke-width="0.9"/>
<line x1="647.7" y1="801" x2="647.7" y2="805.7" stroke="#222" stroke-width="0.9"/>
<line x1="655.6" y1="801" x2="655.6" y2="803.4" stroke="#222" stroke-width="0.9"/>
<line x1="663.5" y1="801" x2="663.5" y2="803.4" stroke="#222" stroke-width="0.9"/>
<line x1="671.3" y1="801" x2="671.3" y2="803.4" stroke="#222" stroke-width="0.9"/>
<text x="102.2" y="815" font-size="9.3" text-anchor="middle" fill="#222" textLength="31" lengthAdjust="spacingAndGlyphs">2740000</text>
<text x="164.1" y="815" font-size="9.3" text-anchor="middle" fill="#222" textLength="31" lengthAdjust="spacingAndGlyphs">2700000</text>
<text x="238" y="815" font-size="9.3" text-anchor="middle" fill="#222" textLength="36" lengthAdjust="spacingAndGlyphs">29760000</text>
<text x="300.4" y="815" font-size="9.3" text-anchor="middle" fill="#222" textLength="36" lengthAdjust="spacingAndGlyphs">29800000</text>
<text x="361.7" y="815" font-size="9.3" text-anchor="middle" fill="#222" textLength="36" lengthAdjust="spacingAndGlyphs">29840000</text>
<text x="424.7" y="815" font-size="9.3" text-anchor="middle" fill="#222" textLength="31" lengthAdjust="spacingAndGlyphs">2540000</text>
<text x="486.5" y="815" font-size="9.3" text-anchor="middle" fill="#222" textLength="31" lengthAdjust="spacingAndGlyphs">2500000</text>
<text x="544" y="815" font-size="9.3" text-anchor="middle" fill="#222" textLength="26.7" lengthAdjust="spacingAndGlyphs">860000</text>
<text x="575.1" y="815" font-size="9.3" text-anchor="middle" fill="#222" textLength="26.7" lengthAdjust="spacingAndGlyphs">880000</text>
<text x="616.5" y="815" font-size="9.3" text-anchor="middle" fill="#222" textLength="31" lengthAdjust="spacingAndGlyphs">1200000</text>
<text x="649.9" y="815" font-size="9.3" text-anchor="middle" fill="#222" textLength="31" lengthAdjust="spacingAndGlyphs">1220000</text>
<text x="65.8" y="673" font-size="9.6" text-anchor="end" fill="#222" textLength="26.7" lengthAdjust="spacingAndGlyphs">100000</text>
<text x="65.8" y="704.6" font-size="9.6" text-anchor="end" fill="#222" textLength="22.25" lengthAdjust="spacingAndGlyphs">80000</text>
<text x="65.8" y="736.2" font-size="9.6" text-anchor="end" fill="#222" textLength="22.25" lengthAdjust="spacingAndGlyphs">60000</text>
<text x="65.8" y="767.8" font-size="9.6" text-anchor="end" fill="#222" textLength="22.25" lengthAdjust="spacingAndGlyphs">40000</text>
<text x="65.8" y="799.4" font-size="9.6" text-anchor="end" fill="#222" textLength="22.25" lengthAdjust="spacingAndGlyphs">20000</text>
<text x="30.3" y="736.7" font-size="11.1" text-anchor="middle" font-weight="normal" fill="#222" transform="rotate(-90 30.3 736.7)"><tspan font-style="italic">T. orientalis</tspan> scaf. M175</text>
<text x="128" y="829.8" font-size="11" text-anchor="middle" font-weight="normal" fill="#222"><tspan font-style="italic">T. maccoyii</tspan> chr. 13</text>
<text x="300.3" y="829.8" font-size="11" text-anchor="middle" font-weight="normal" fill="#222"><tspan font-style="italic">T. albacares</tspan> chr. 13</text>
<text x="451.3" y="829.8" font-size="11" text-anchor="middle" font-weight="normal" fill="#222"><tspan font-style="italic">E. affinis</tspan> chr. 8</text>
<text x="596.5" y="829.8" font-size="11" text-anchor="middle" font-weight="normal" fill="#222"><tspan font-style="italic">K. pelamis</tspan> scaf. 27</text>
<line x1="69.6" y1="872.5" x2="149.7" y2="872.5" stroke="#8c8c8c" stroke-width="1"/>
<line x1="69.6" y1="878.8" x2="149.7" y2="878.8" stroke="#9c9c9c" stroke-width="1.3"/>
<rect x="69.6" y="887.3" width="80.1" height="2.2" fill="#d2d2d2"/>
<line x1="69.6" y1="889.3" x2="149.7" y2="889.3" stroke="#bdbdbd" stroke-width="0.7"/>
<line x1="69.6" y1="907.2" x2="149.7" y2="907.2" stroke="#c6c6c6" stroke-width="1"/>
<rect x="69.6" y="909.3" width="80.1" height="3.2" fill="#8b8c90"/>
<line x1="65" y1="866.4" x2="69.6" y2="866.4" stroke="#222" stroke-width="1"/>
<line x1="67.2" y1="871.16" x2="69.6" y2="871.16" stroke="#222" stroke-width="1"/>
<line x1="67.2" y1="875.92" x2="69.6" y2="875.92" stroke="#222" stroke-width="1"/>
<line x1="67.2" y1="880.68" x2="69.6" y2="880.68" stroke="#222" stroke-width="1"/>
<line x1="65" y1="885.44" x2="69.6" y2="885.44" stroke="#222" stroke-width="1"/>
<line x1="67.2" y1="890.2" x2="69.6" y2="890.2" stroke="#222" stroke-width="1"/>
<line x1="67.2" y1="894.96" x2="69.6" y2="894.96" stroke="#222" stroke-width="1"/>
<line x1="67.2" y1="899.72" x2="69.6" y2="899.72" stroke="#222" stroke-width="1"/>
<line x1="65" y1="904.48" x2="69.6" y2="904.48" stroke="#222" stroke-width="1"/>
<line x1="67.2" y1="909.24" x2="69.6" y2="909.24" stroke="#222" stroke-width="1"/>
<line x1="67.2" y1="914" x2="69.6" y2="914" stroke="#222" stroke-width="1"/>
<line x1="67.2" y1="918.76" x2="69.6" y2="918.76" stroke="#222" stroke-width="1"/>
<line x1="65" y1="923.52" x2="69.6" y2="923.52" stroke="#222" stroke-width="1"/>
<line x1="67.2" y1="928.28" x2="69.6" y2="928.28" stroke="#222" stroke-width="1"/>
<line x1="67.2" y1="933.04" x2="69.6" y2="933.04" stroke="#222" stroke-width="1"/>
<line x1="67.2" y1="937.8" x2="69.6" y2="937.8" stroke="#222" stroke-width="1"/>
<line x1="65" y1="942.56" x2="69.6" y2="942.56" stroke="#222" stroke-width="1"/>
<line x1="162.2" y1="872.5" x2="238.4" y2="872.5" stroke="#8c8c8c" stroke-width="1"/>
<line x1="162.2" y1="878.8" x2="238.4" y2="878.8" stroke="#9c9c9c" stroke-width="1.3"/>
<rect x="162.2" y="887.3" width="76.2" height="2.2" fill="#d2d2d2"/>
<line x1="162.2" y1="889.3" x2="238.4" y2="889.3" stroke="#bdbdbd" stroke-width="0.7"/>
<line x1="162.2" y1="907.2" x2="238.4" y2="907.2" stroke="#c6c6c6" stroke-width="1"/>
<rect x="162.2" y="909.3" width="76.2" height="3.2" fill="#8b8c90"/>
<line x1="157.6" y1="866.4" x2="162.2" y2="866.4" stroke="#222" stroke-width="1"/>
<line x1="159.8" y1="871.16" x2="162.2" y2="871.16" stroke="#222" stroke-width="1"/>
<line x1="159.8" y1="875.92" x2="162.2" y2="875.92" stroke="#222" stroke-width="1"/>
<line x1="159.8" y1="880.68" x2="162.2" y2="880.68" stroke="#222" stroke-width="1"/>
<line x1="157.6" y1="885.44" x2="162.2" y2="885.44" stroke="#222" stroke-width="1"/>
<line x1="159.8" y1="890.2" x2="162.2" y2="890.2" stroke="#222" stroke-width="1"/>
<line x1="159.8" y1="894.96" x2="162.2" y2="894.96" stroke="#222" stroke-width="1"/>
<line x1="159.8" y1="899.72" x2="162.2" y2="899.72" stroke="#222" stroke-width="1"/>
<line x1="157.6" y1="904.48" x2="162.2" y2="904.48" stroke="#222" stroke-width="1"/>
<line x1="159.8" y1="909.24" x2="162.2" y2="909.24" stroke="#222" stroke-width="1"/>
<line x1="159.8" y1="914" x2="162.2" y2="914" stroke="#222" stroke-width="1"/>
<line x1="159.8" y1="918.76" x2="162.2" y2="918.76" stroke="#222" stroke-width="1"/>
<line x1="157.6" y1="923.52" x2="162.2" y2="923.52" stroke="#222" stroke-width="1"/>
<line x1="159.8" y1="928.28" x2="162.2" y2="928.28" stroke="#222" stroke-width="1"/>
<line x1="159.8" y1="933.04" x2="162.2" y2="933.04" stroke="#222" stroke-width="1"/>
<line x1="159.8" y1="937.8" x2="162.2" y2="937.8" stroke="#222" stroke-width="1"/>
<line x1="157.6" y1="942.56" x2="162.2" y2="942.56" stroke="#222" stroke-width="1"/>
<line x1="250.5" y1="872.5" x2="327" y2="872.5" stroke="#8c8c8c" stroke-width="1"/>
<line x1="250.5" y1="878.8" x2="327" y2="878.8" stroke="#9c9c9c" stroke-width="1.3"/>
<rect x="250.5" y="887.3" width="76.5" height="2.2" fill="#d2d2d2"/>
<line x1="250.5" y1="889.3" x2="327" y2="889.3" stroke="#bdbdbd" stroke-width="0.7"/>
<line x1="250.5" y1="907.2" x2="327" y2="907.2" stroke="#c6c6c6" stroke-width="1"/>
<rect x="250.5" y="909.3" width="76.5" height="3.2" fill="#8b8c90"/>
<line x1="245.9" y1="866.4" x2="250.5" y2="866.4" stroke="#222" stroke-width="1"/>
<line x1="248.1" y1="871.16" x2="250.5" y2="871.16" stroke="#222" stroke-width="1"/>
<line x1="248.1" y1="875.92" x2="250.5" y2="875.92" stroke="#222" stroke-width="1"/>
<line x1="248.1" y1="880.68" x2="250.5" y2="880.68" stroke="#222" stroke-width="1"/>
<line x1="245.9" y1="885.44" x2="250.5" y2="885.44" stroke="#222" stroke-width="1"/>
<line x1="248.1" y1="890.2" x2="250.5" y2="890.2" stroke="#222" stroke-width="1"/>
<line x1="248.1" y1="894.96" x2="250.5" y2="894.96" stroke="#222" stroke-width="1"/>
<line x1="248.1" y1="899.72" x2="250.5" y2="899.72" stroke="#222" stroke-width="1"/>
<line x1="245.9" y1="904.48" x2="250.5" y2="904.48" stroke="#222" stroke-width="1"/>
<line x1="248.1" y1="909.24" x2="250.5" y2="909.24" stroke="#222" stroke-width="1"/>
<line x1="248.1" y1="914" x2="250.5" y2="914" stroke="#222" stroke-width="1"/>
<line x1="248.1" y1="918.76" x2="250.5" y2="918.76" stroke="#222" stroke-width="1"/>
<line x1="245.9" y1="923.52" x2="250.5" y2="923.52" stroke="#222" stroke-width="1"/>
<line x1="248.1" y1="928.28" x2="250.5" y2="928.28" stroke="#222" stroke-width="1"/>
<line x1="248.1" y1="933.04" x2="250.5" y2="933.04" stroke="#222" stroke-width="1"/>
<line x1="248.1" y1="937.8" x2="250.5" y2="937.8" stroke="#222" stroke-width="1"/>
<line x1="245.9" y1="942.56" x2="250.5" y2="942.56" stroke="#222" stroke-width="1"/>
<line x1="341.3" y1="872.5" x2="399.3" y2="872.5" stroke="#8c8c8c" stroke-width="1"/>
<line x1="341.3" y1="878.8" x2="399.3" y2="878.8" stroke="#9c9c9c" stroke-width="1.3"/>
<rect x="341.3" y="887.3" width="58" height="2.2" fill="#d2d2d2"/>
<line x1="341.3" y1="889.3" x2="399.3" y2="889.3" stroke="#bdbdbd" stroke-width="0.7"/>
<line x1="341.3" y1="907.2" x2="399.3" y2="907.2" stroke="#c6c6c6" stroke-width="1"/>
<rect x="341.3" y="909.3" width="58" height="3.2" fill="#8b8c90"/>
<line x1="336.7" y1="866.4" x2="341.3" y2="866.4" stroke="#222" stroke-width="1"/>
<line x1="338.9" y1="871.16" x2="341.3" y2="871.16" stroke="#222" stroke-width="1"/>
<line x1="338.9" y1="875.92" x2="341.3" y2="875.92" stroke="#222" stroke-width="1"/>
<line x1="338.9" y1="880.68" x2="341.3" y2="880.68" stroke="#222" stroke-width="1"/>
<line x1="336.7" y1="885.44" x2="341.3" y2="885.44" stroke="#222" stroke-width="1"/>
<line x1="338.9" y1="890.2" x2="341.3" y2="890.2" stroke="#222" stroke-width="1"/>
<line x1="338.9" y1="894.96" x2="341.3" y2="894.96" stroke="#222" stroke-width="1"/>
<line x1="338.9" y1="899.72" x2="341.3" y2="899.72" stroke="#222" stroke-width="1"/>
<line x1="336.7" y1="904.48" x2="341.3" y2="904.48" stroke="#222" stroke-width="1"/>
<line x1="338.9" y1="909.24" x2="341.3" y2="909.24" stroke="#222" stroke-width="1"/>
<line x1="338.9" y1="914" x2="341.3" y2="914" stroke="#222" stroke-width="1"/>
<line x1="338.9" y1="918.76" x2="341.3" y2="918.76" stroke="#222" stroke-width="1"/>
<line x1="336.7" y1="923.52" x2="341.3" y2="923.52" stroke="#222" stroke-width="1"/>
<line x1="338.9" y1="928.28" x2="341.3" y2="928.28" stroke="#222" stroke-width="1"/>
<line x1="338.9" y1="933.04" x2="341.3" y2="933.04" stroke="#222" stroke-width="1"/>
<line x1="338.9" y1="937.8" x2="341.3" y2="937.8" stroke="#222" stroke-width="1"/>
<line x1="336.7" y1="942.56" x2="341.3" y2="942.56" stroke="#222" stroke-width="1"/>
<line x1="416.6" y1="872.5" x2="481.4" y2="872.5" stroke="#8c8c8c" stroke-width="1"/>
<line x1="416.6" y1="878.8" x2="481.4" y2="878.8" stroke="#9c9c9c" stroke-width="1.3"/>
<rect x="416.6" y="887.3" width="64.8" height="2.2" fill="#d2d2d2"/>
<line x1="416.6" y1="889.3" x2="481.4" y2="889.3" stroke="#bdbdbd" stroke-width="0.7"/>
<line x1="416.6" y1="907.2" x2="481.4" y2="907.2" stroke="#c6c6c6" stroke-width="1"/>
<rect x="416.6" y="909.3" width="64.8" height="3.2" fill="#8b8c90"/>
<line x1="412" y1="866.4" x2="416.6" y2="866.4" stroke="#222" stroke-width="1"/>
<line x1="414.2" y1="871.16" x2="416.6" y2="871.16" stroke="#222" stroke-width="1"/>
<line x1="414.2" y1="875.92" x2="416.6" y2="875.92" stroke="#222" stroke-width="1"/>
<line x1="414.2" y1="880.68" x2="416.6" y2="880.68" stroke="#222" stroke-width="1"/>
<line x1="412" y1="885.44" x2="416.6" y2="885.44" stroke="#222" stroke-width="1"/>
<line x1="414.2" y1="890.2" x2="416.6" y2="890.2" stroke="#222" stroke-width="1"/>
<line x1="414.2" y1="894.96" x2="416.6" y2="894.96" stroke="#222" stroke-width="1"/>
<line x1="414.2" y1="899.72" x2="416.6" y2="899.72" stroke="#222" stroke-width="1"/>
<line x1="412" y1="904.48" x2="416.6" y2="904.48" stroke="#222" stroke-width="1"/>
<line x1="414.2" y1="909.24" x2="416.6" y2="909.24" stroke="#222" stroke-width="1"/>
<line x1="414.2" y1="914" x2="416.6" y2="914" stroke="#222" stroke-width="1"/>
<line x1="414.2" y1="918.76" x2="416.6" y2="918.76" stroke="#222" stroke-width="1"/>
<line x1="412" y1="923.52" x2="416.6" y2="923.52" stroke="#222" stroke-width="1"/>
<line x1="414.2" y1="928.28" x2="416.6" y2="928.28" stroke="#222" stroke-width="1"/>
<line x1="414.2" y1="933.04" x2="416.6" y2="933.04" stroke="#222" stroke-width="1"/>
<line x1="414.2" y1="937.8" x2="416.6" y2="937.8" stroke="#222" stroke-width="1"/>
<line x1="412" y1="942.56" x2="416.6" y2="942.56" stroke="#222" stroke-width="1"/>
<line x1="497.5" y1="872.5" x2="564.4" y2="872.5" stroke="#8c8c8c" stroke-width="1"/>
<line x1="497.5" y1="878.8" x2="564.4" y2="878.8" stroke="#9c9c9c" stroke-width="1.3"/>
<rect x="497.5" y="887.3" width="66.9" height="2.2" fill="#d2d2d2"/>
<line x1="497.5" y1="889.3" x2="564.4" y2="889.3" stroke="#bdbdbd" stroke-width="0.7"/>
<line x1="497.5" y1="907.2" x2="564.4" y2="907.2" stroke="#c6c6c6" stroke-width="1"/>
<rect x="497.5" y="909.3" width="66.9" height="3.2" fill="#8b8c90"/>
<line x1="492.9" y1="866.4" x2="497.5" y2="866.4" stroke="#222" stroke-width="1"/>
<line x1="495.1" y1="871.16" x2="497.5" y2="871.16" stroke="#222" stroke-width="1"/>
<line x1="495.1" y1="875.92" x2="497.5" y2="875.92" stroke="#222" stroke-width="1"/>
<line x1="495.1" y1="880.68" x2="497.5" y2="880.68" stroke="#222" stroke-width="1"/>
<line x1="492.9" y1="885.44" x2="497.5" y2="885.44" stroke="#222" stroke-width="1"/>
<line x1="495.1" y1="890.2" x2="497.5" y2="890.2" stroke="#222" stroke-width="1"/>
<line x1="495.1" y1="894.96" x2="497.5" y2="894.96" stroke="#222" stroke-width="1"/>
<line x1="495.1" y1="899.72" x2="497.5" y2="899.72" stroke="#222" stroke-width="1"/>
<line x1="492.9" y1="904.48" x2="497.5" y2="904.48" stroke="#222" stroke-width="1"/>
<line x1="495.1" y1="909.24" x2="497.5" y2="909.24" stroke="#222" stroke-width="1"/>
<line x1="495.1" y1="914" x2="497.5" y2="914" stroke="#222" stroke-width="1"/>
<line x1="495.1" y1="918.76" x2="497.5" y2="918.76" stroke="#222" stroke-width="1"/>
<line x1="492.9" y1="923.52" x2="497.5" y2="923.52" stroke="#222" stroke-width="1"/>
<line x1="495.1" y1="928.28" x2="497.5" y2="928.28" stroke="#222" stroke-width="1"/>
<line x1="495.1" y1="933.04" x2="497.5" y2="933.04" stroke="#222" stroke-width="1"/>
<line x1="495.1" y1="937.8" x2="497.5" y2="937.8" stroke="#222" stroke-width="1"/>
<line x1="492.9" y1="942.56" x2="497.5" y2="942.56" stroke="#222" stroke-width="1"/>
<line x1="575.5" y1="872.5" x2="676.2" y2="872.5" stroke="#8c8c8c" stroke-width="1"/>
<line x1="575.5" y1="878.8" x2="676.2" y2="878.8" stroke="#9c9c9c" stroke-width="1.3"/>
<rect x="575.5" y="887.3" width="100.7" height="2.2" fill="#d2d2d2"/>
<line x1="575.5" y1="889.3" x2="676.2" y2="889.3" stroke="#bdbdbd" stroke-width="0.7"/>
<line x1="575.5" y1="907.2" x2="676.2" y2="907.2" stroke="#c6c6c6" stroke-width="1"/>
<rect x="575.5" y="909.3" width="100.7" height="3.2" fill="#8b8c90"/>
<line x1="570.9" y1="866.4" x2="575.5" y2="866.4" stroke="#222" stroke-width="1"/>
<line x1="573.1" y1="871.16" x2="575.5" y2="871.16" stroke="#222" stroke-width="1"/>
<line x1="573.1" y1="875.92" x2="575.5" y2="875.92" stroke="#222" stroke-width="1"/>
<line x1="573.1" y1="880.68" x2="575.5" y2="880.68" stroke="#222" stroke-width="1"/>
<line x1="570.9" y1="885.44" x2="575.5" y2="885.44" stroke="#222" stroke-width="1"/>
<line x1="573.1" y1="890.2" x2="575.5" y2="890.2" stroke="#222" stroke-width="1"/>
<line x1="573.1" y1="894.96" x2="575.5" y2="894.96" stroke="#222" stroke-width="1"/>
<line x1="573.1" y1="899.72" x2="575.5" y2="899.72" stroke="#222" stroke-width="1"/>
<line x1="570.9" y1="904.48" x2="575.5" y2="904.48" stroke="#222" stroke-width="1"/>
<line x1="573.1" y1="909.24" x2="575.5" y2="909.24" stroke="#222" stroke-width="1"/>
<line x1="573.1" y1="914" x2="575.5" y2="914" stroke="#222" stroke-width="1"/>
<line x1="573.1" y1="918.76" x2="575.5" y2="918.76" stroke="#222" stroke-width="1"/>
<line x1="570.9" y1="923.52" x2="575.5" y2="923.52" stroke="#222" stroke-width="1"/>
<line x1="573.1" y1="928.28" x2="575.5" y2="928.28" stroke="#222" stroke-width="1"/>
<line x1="573.1" y1="933.04" x2="575.5" y2="933.04" stroke="#222" stroke-width="1"/>
<line x1="573.1" y1="937.8" x2="575.5" y2="937.8" stroke="#222" stroke-width="1"/>
<line x1="570.9" y1="942.56" x2="575.5" y2="942.56" stroke="#222" stroke-width="1"/>
<line x1="70.2" y1="943.5" x2="149.3" y2="863.3" stroke="#7850af" stroke-width="1.6" stroke-linecap="round"/>
<circle cx="135.9" cy="874.7" r="0.9" fill="#2e9a6e"/>
<circle cx="74.6" cy="889" r="0.7" fill="#7850af"/>
<circle cx="123.9" cy="938.6" r="0.8" fill="#7850af"/>
<line x1="162.9" y1="943.5" x2="175.8" y2="931.6" stroke="#7850af" stroke-width="1.6" stroke-linecap="round"/>
<line x1="175" y1="927" x2="238" y2="863.3" stroke="#7850af" stroke-width="1.6" stroke-linecap="round"/>
<circle cx="167.5" cy="889.1" r="0.75" fill="#7850af"/>
<circle cx="212.8" cy="938.8" r="0.8" fill="#7850af"/>
<circle cx="226.6" cy="876.4" r="0.9" fill="#2e9a6e"/>
<line x1="250.9" y1="941.6" x2="326.7" y2="863.6" stroke="#7850af" stroke-width="1.6" stroke-linecap="round"/>
<circle cx="302.8" cy="938.8" r="0.8" fill="#7850af"/>
<circle cx="315.7" cy="875.7" r="1.1" fill="#2e9a6e"/>
<line x1="341.5" y1="936.6" x2="346.2" y2="932" stroke="#7850af" stroke-width="1.6" stroke-linecap="round"/>
<line x1="351.1" y1="921.2" x2="354.6" y2="917" stroke="#7850af" stroke-width="1.6" stroke-linecap="round"/>
<line x1="355.3" y1="916.1" x2="367.9" y2="903.5" stroke="#7850af" stroke-width="1.6" stroke-linecap="round"/>
<line x1="370.2" y1="895.3" x2="370.9" y2="894.4" stroke="#7850af" stroke-width="1.6" stroke-linecap="round"/>
<line x1="371.6" y1="892.7" x2="387.5" y2="877.8" stroke="#7850af" stroke-width="1.6" stroke-linecap="round"/>
<line x1="388.5" y1="875" x2="399.2" y2="863.6" stroke="#7850af" stroke-width="1.6" stroke-linecap="round"/>
<circle cx="374.9" cy="939" r="0.8" fill="#7850af"/>
<line x1="416.9" y1="938.7" x2="423.4" y2="932.3" stroke="#7850af" stroke-width="1.6" stroke-linecap="round"/>
<line x1="428.8" y1="920.8" x2="432.9" y2="916.7" stroke="#7850af" stroke-width="1.6" stroke-linecap="round"/>
<line x1="433.9" y1="915.2" x2="446.2" y2="903.4" stroke="#7850af" stroke-width="1.6" stroke-linecap="round"/>
<line x1="448.5" y1="896.6" x2="452.8" y2="892.5" stroke="#7850af" stroke-width="1.6" stroke-linecap="round"/>
<line x1="453.3" y1="891.2" x2="461.5" y2="882" stroke="#7850af" stroke-width="1.6" stroke-linecap="round"/>
<line x1="462.5" y1="881" x2="480.9" y2="863.6" stroke="#7850af" stroke-width="1.6" stroke-linecap="round"/>
<circle cx="454.9" cy="938.7" r="0.7" fill="#7850af"/>
<circle cx="465.1" cy="890.7" r="0.6" fill="#2e9a6e"/>
<line x1="528.4" y1="912.9" x2="537.8" y2="903.2" stroke="#7850af" stroke-width="1.6" stroke-linecap="round"/>
<line x1="541.5" y1="891.5" x2="547.5" y2="885.6" stroke="#7850af" stroke-width="1.6" stroke-linecap="round"/>
<line x1="551.8" y1="881.3" x2="564" y2="868.4" stroke="#7850af" stroke-width="1.6" stroke-linecap="round"/>
<circle cx="538.3" cy="896" r="0.85" fill="#7850af"/>
<circle cx="501.3" cy="936.9" r="0.95" fill="#7850af"/>
<circle cx="544.2" cy="938.9" r="0.7" fill="#7850af"/>
<circle cx="498.1" cy="943.2" r="0.8" fill="#7850af"/>
<line x1="667.4" y1="873.4" x2="672.4" y2="868.2" stroke="#7850af" stroke-width="1.5" stroke-linecap="round"/>
<line x1="616.6" y1="879.7" x2="618.5" y2="878.4" stroke="#7850af" stroke-width="1.5" stroke-linecap="round"/>
<line x1="663.9" y1="879.7" x2="665.5" y2="878.4" stroke="#7850af" stroke-width="1.5" stroke-linecap="round"/>
<line x1="612.7" y1="889.2" x2="614.6" y2="887.6" stroke="#7850af" stroke-width="1.5" stroke-linecap="round"/>
<line x1="655.6" y1="889.2" x2="657.5" y2="887.6" stroke="#7850af" stroke-width="1.5" stroke-linecap="round"/>
<line x1="638.7" y1="912.5" x2="642.2" y2="909.7" stroke="#7850af" stroke-width="1.5" stroke-linecap="round"/>
<circle cx="675.3" cy="863.9" r="0.75" fill="#7850af"/>
<circle cx="626.4" cy="872.9" r="0.75" fill="#7850af"/>
<circle cx="606.7" cy="910.1" r="0.75" fill="#7850af"/>
<circle cx="610.2" cy="907" r="0.75" fill="#7850af"/>
<circle cx="645.3" cy="906.8" r="0.75" fill="#7850af"/>
<circle cx="655.9" cy="938.8" r="0.75" fill="#7850af"/>
<circle cx="600.4" cy="943.4" r="0.75" fill="#7850af"/>
<rect x="69.6" y="862.8" width="80.1" height="81.1" fill="none" stroke="#111" stroke-width="1.2"/>
<rect x="162.2" y="862.8" width="76.2" height="81.1" fill="none" stroke="#111" stroke-width="1.2"/>
<rect x="250.5" y="862.8" width="76.5" height="81.1" fill="none" stroke="#111" stroke-width="1.2"/>
<rect x="341.3" y="862.8" width="58" height="81.1" fill="none" stroke="#111" stroke-width="1.2"/>
<rect x="416.6" y="862.8" width="64.8" height="81.1" fill="none" stroke="#111" stroke-width="1.2"/>
<rect x="497.5" y="862.8" width="66.9" height="81.1" fill="none" stroke="#111" stroke-width="1.2"/>
<rect x="575.5" y="862.8" width="100.7" height="81.1" fill="none" stroke="#111" stroke-width="1.2"/>
<line x1="73.2" y1="943.9" x2="73.2" y2="946.3" stroke="#222" stroke-width="0.9"/>
<line x1="77.9" y1="943.9" x2="77.9" y2="948.5" stroke="#222" stroke-width="0.9"/>
<line x1="82.6" y1="943.9" x2="82.6" y2="946.3" stroke="#222" stroke-width="0.9"/>
<line x1="87.3" y1="943.9" x2="87.3" y2="946.3" stroke="#222" stroke-width="0.9"/>
<line x1="92" y1="943.9" x2="92" y2="946.3" stroke="#222" stroke-width="0.9"/>
<line x1="96.7" y1="943.9" x2="96.7" y2="948.5" stroke="#222" stroke-width="0.9"/>
<line x1="101.4" y1="943.9" x2="101.4" y2="946.3" stroke="#222" stroke-width="0.9"/>
<line x1="106.1" y1="943.9" x2="106.1" y2="946.3" stroke="#222" stroke-width="0.9"/>
<line x1="110.8" y1="943.9" x2="110.8" y2="946.3" stroke="#222" stroke-width="0.9"/>
<line x1="115.5" y1="943.9" x2="115.5" y2="948.5" stroke="#222" stroke-width="0.9"/>
<line x1="120.2" y1="943.9" x2="120.2" y2="946.3" stroke="#222" stroke-width="0.9"/>
<line x1="124.9" y1="943.9" x2="124.9" y2="946.3" stroke="#222" stroke-width="0.9"/>
<line x1="129.6" y1="943.9" x2="129.6" y2="946.3" stroke="#222" stroke-width="0.9"/>
<line x1="134.3" y1="943.9" x2="134.3" y2="948.5" stroke="#222" stroke-width="0.9"/>
<line x1="139" y1="943.9" x2="139" y2="946.3" stroke="#222" stroke-width="0.9"/>
<line x1="143.7" y1="943.9" x2="143.7" y2="946.3" stroke="#222" stroke-width="0.9"/>
<line x1="148.4" y1="943.9" x2="148.4" y2="946.3" stroke="#222" stroke-width="0.9"/>
<line x1="163.32" y1="943.9" x2="163.32" y2="946.3" stroke="#222" stroke-width="0.9"/>
<line x1="168.08" y1="943.9" x2="168.08" y2="946.3" stroke="#222" stroke-width="0.9"/>
<line x1="172.84" y1="943.9" x2="172.84" y2="946.3" stroke="#222" stroke-width="0.9"/>
<line x1="177.6" y1="943.9" x2="177.6" y2="948.5" stroke="#222" stroke-width="0.9"/>
<line x1="182.36" y1="943.9" x2="182.36" y2="946.3" stroke="#222" stroke-width="0.9"/>
<line x1="187.12" y1="943.9" x2="187.12" y2="946.3" stroke="#222" stroke-width="0.9"/>
<line x1="191.88" y1="943.9" x2="191.88" y2="946.3" stroke="#222" stroke-width="0.9"/>
<line x1="196.64" y1="943.9" x2="196.64" y2="948.5" stroke="#222" stroke-width="0.9"/>
<line x1="201.4" y1="943.9" x2="201.4" y2="946.3" stroke="#222" stroke-width="0.9"/>
<line x1="206.16" y1="943.9" x2="206.16" y2="946.3" stroke="#222" stroke-width="0.9"/>
<line x1="210.92" y1="943.9" x2="210.92" y2="946.3" stroke="#222" stroke-width="0.9"/>
<line x1="215.68" y1="943.9" x2="215.68" y2="948.5" stroke="#222" stroke-width="0.9"/>
<line x1="220.44" y1="943.9" x2="220.44" y2="946.3" stroke="#222" stroke-width="0.9"/>
<line x1="225.2" y1="943.9" x2="225.2" y2="946.3" stroke="#222" stroke-width="0.9"/>
<line x1="229.96" y1="943.9" x2="229.96" y2="946.3" stroke="#222" stroke-width="0.9"/>
<line x1="234.72" y1="943.9" x2="234.72" y2="948.5" stroke="#222" stroke-width="0.9"/>
<line x1="253.06" y1="943.9" x2="253.06" y2="946.3" stroke="#222" stroke-width="0.9"/>
<line x1="257.78" y1="943.9" x2="257.78" y2="946.3" stroke="#222" stroke-width="0.9"/>
<line x1="262.5" y1="943.9" x2="262.5" y2="948.5" stroke="#222" stroke-width="0.9"/>
<line x1="267.22" y1="943.9" x2="267.22" y2="946.3" stroke="#222" stroke-width="0.9"/>
<line x1="271.94" y1="943.9" x2="271.94" y2="946.3" stroke="#222" stroke-width="0.9"/>
<line x1="276.66" y1="943.9" x2="276.66" y2="946.3" stroke="#222" stroke-width="0.9"/>
<line x1="281.38" y1="943.9" x2="281.38" y2="948.5" stroke="#222" stroke-width="0.9"/>
<line x1="286.1" y1="943.9" x2="286.1" y2="946.3" stroke="#222" stroke-width="0.9"/>
<line x1="290.82" y1="943.9" x2="290.82" y2="946.3" stroke="#222" stroke-width="0.9"/>
<line x1="295.54" y1="943.9" x2="295.54" y2="946.3" stroke="#222" stroke-width="0.9"/>
<line x1="300.26" y1="943.9" x2="300.26" y2="948.5" stroke="#222" stroke-width="0.9"/>
<line x1="304.98" y1="943.9" x2="304.98" y2="946.3" stroke="#222" stroke-width="0.9"/>
<line x1="309.7" y1="943.9" x2="309.7" y2="946.3" stroke="#222" stroke-width="0.9"/>
<line x1="314.42" y1="943.9" x2="314.42" y2="946.3" stroke="#222" stroke-width="0.9"/>
<line x1="319.14" y1="943.9" x2="319.14" y2="948.5" stroke="#222" stroke-width="0.9"/>
<line x1="323.86" y1="943.9" x2="323.86" y2="946.3" stroke="#222" stroke-width="0.9"/>
<line x1="341.8" y1="943.9" x2="341.8" y2="946.3" stroke="#222" stroke-width="0.9"/>
<line x1="346" y1="943.9" x2="346" y2="946.3" stroke="#222" stroke-width="0.9"/>
<line x1="350.2" y1="943.9" x2="350.2" y2="946.3" stroke="#222" stroke-width="0.9"/>
<line x1="354.4" y1="943.9" x2="354.4" y2="948.5" stroke="#222" stroke-width="0.9"/>
<line x1="358.6" y1="943.9" x2="358.6" y2="946.3" stroke="#222" stroke-width="0.9"/>
<line x1="362.8" y1="943.9" x2="362.8" y2="946.3" stroke="#222" stroke-width="0.9"/>
<line x1="367" y1="943.9" x2="367" y2="946.3" stroke="#222" stroke-width="0.9"/>
<line x1="371.2" y1="943.9" x2="371.2" y2="948.5" stroke="#222" stroke-width="0.9"/>
<line x1="375.4" y1="943.9" x2="375.4" y2="946.3" stroke="#222" stroke-width="0.9"/>
<line x1="379.6" y1="943.9" x2="379.6" y2="946.3" stroke="#222" stroke-width="0.9"/>
<line x1="383.8" y1="943.9" x2="383.8" y2="946.3" stroke="#222" stroke-width="0.9"/>
<line x1="388" y1="943.9" x2="388" y2="948.5" stroke="#222" stroke-width="0.9"/>
<line x1="392.2" y1="943.9" x2="392.2" y2="946.3" stroke="#222" stroke-width="0.9"/>
<line x1="396.4" y1="943.9" x2="396.4" y2="946.3" stroke="#222" stroke-width="0.9"/>
<line x1="419.39" y1="943.9" x2="419.39" y2="946.3" stroke="#222" stroke-width="0.9"/>
<line x1="423.5" y1="943.9" x2="423.5" y2="948.5" stroke="#222" stroke-width="0.9"/>
<line x1="427.61" y1="943.9" x2="427.61" y2="946.3" stroke="#222" stroke-width="0.9"/>
<line x1="431.72" y1="943.9" x2="431.72" y2="946.3" stroke="#222" stroke-width="0.9"/>
<line x1="435.83" y1="943.9" x2="435.83" y2="946.3" stroke="#222" stroke-width="0.9"/>
<line x1="439.94" y1="943.9" x2="439.94" y2="948.5" stroke="#222" stroke-width="0.9"/>
<line x1="444.05" y1="943.9" x2="444.05" y2="946.3" stroke="#222" stroke-width="0.9"/>
<line x1="448.16" y1="943.9" x2="448.16" y2="946.3" stroke="#222" stroke-width="0.9"/>
<line x1="452.27" y1="943.9" x2="452.27" y2="946.3" stroke="#222" stroke-width="0.9"/>
<line x1="456.38" y1="943.9" x2="456.38" y2="948.5" stroke="#222" stroke-width="0.9"/>
<line x1="460.49" y1="943.9" x2="460.49" y2="946.3" stroke="#222" stroke-width="0.9"/>
<line x1="464.6" y1="943.9" x2="464.6" y2="946.3" stroke="#222" stroke-width="0.9"/>
<line x1="468.71" y1="943.9" x2="468.71" y2="946.3" stroke="#222" stroke-width="0.9"/>
<line x1="472.82" y1="943.9" x2="472.82" y2="948.5" stroke="#222" stroke-width="0.9"/>
<line x1="476.93" y1="943.9" x2="476.93" y2="946.3" stroke="#222" stroke-width="0.9"/>
<line x1="481.04" y1="943.9" x2="481.04" y2="946.3" stroke="#222" stroke-width="0.9"/>
<line x1="499.81" y1="943.9" x2="499.81" y2="946.3" stroke="#222" stroke-width="0.9"/>
<line x1="503.54" y1="943.9" x2="503.54" y2="946.3" stroke="#222" stroke-width="0.9"/>
<line x1="507.27" y1="943.9" x2="507.27" y2="946.3" stroke="#222" stroke-width="0.9"/>
<line x1="511" y1="943.9" x2="511" y2="948.5" stroke="#222" stroke-width="0.9"/>
<line x1="514.73" y1="943.9" x2="514.73" y2="946.3" stroke="#222" stroke-width="0.9"/>
<line x1="518.46" y1="943.9" x2="518.46" y2="946.3" stroke="#222" stroke-width="0.9"/>
<line x1="522.19" y1="943.9" x2="522.19" y2="946.3" stroke="#222" stroke-width="0.9"/>
<line x1="525.92" y1="943.9" x2="525.92" y2="948.5" stroke="#222" stroke-width="0.9"/>
<line x1="529.65" y1="943.9" x2="529.65" y2="946.3" stroke="#222" stroke-width="0.9"/>
<line x1="533.38" y1="943.9" x2="533.38" y2="946.3" stroke="#222" stroke-width="0.9"/>
<line x1="537.11" y1="943.9" x2="537.11" y2="946.3" stroke="#222" stroke-width="0.9"/>
<line x1="540.84" y1="943.9" x2="540.84" y2="948.5" stroke="#222" stroke-width="0.9"/>
<line x1="544.57" y1="943.9" x2="544.57" y2="946.3" stroke="#222" stroke-width="0.9"/>
<line x1="548.3" y1="943.9" x2="548.3" y2="946.3" stroke="#222" stroke-width="0.9"/>
<line x1="552.03" y1="943.9" x2="552.03" y2="946.3" stroke="#222" stroke-width="0.9"/>
<line x1="555.76" y1="943.9" x2="555.76" y2="948.5" stroke="#222" stroke-width="0.9"/>
<line x1="559.49" y1="943.9" x2="559.49" y2="946.3" stroke="#222" stroke-width="0.9"/>
<line x1="563.22" y1="943.9" x2="563.22" y2="946.3" stroke="#222" stroke-width="0.9"/>
<line x1="576.8" y1="943.9" x2="576.8" y2="946.3" stroke="#222" stroke-width="0.9"/>
<line x1="581.5" y1="943.9" x2="581.5" y2="948.5" stroke="#222" stroke-width="0.9"/>
<line x1="586.2" y1="943.9" x2="586.2" y2="946.3" stroke="#222" stroke-width="0.9"/>
<line x1="590.9" y1="943.9" x2="590.9" y2="946.3" stroke="#222" stroke-width="0.9"/>
<line x1="595.6" y1="943.9" x2="595.6" y2="946.3" stroke="#222" stroke-width="0.9"/>
<line x1="600.3" y1="943.9" x2="600.3" y2="948.5" stroke="#222" stroke-width="0.9"/>
<line x1="605" y1="943.9" x2="605" y2="946.3" stroke="#222" stroke-width="0.9"/>
<line x1="609.7" y1="943.9" x2="609.7" y2="946.3" stroke="#222" stroke-width="0.9"/>
<line x1="614.4" y1="943.9" x2="614.4" y2="946.3" stroke="#222" stroke-width="0.9"/>
<line x1="619.1" y1="943.9" x2="619.1" y2="948.5" stroke="#222" stroke-width="0.9"/>
<line x1="623.8" y1="943.9" x2="623.8" y2="946.3" stroke="#222" stroke-width="0.9"/>
<line x1="628.5" y1="943.9" x2="628.5" y2="946.3" stroke="#222" stroke-width="0.9"/>
<line x1="633.2" y1="943.9" x2="633.2" y2="946.3" stroke="#222" stroke-width="0.9"/>
<line x1="637.9" y1="943.9" x2="637.9" y2="948.5" stroke="#222" stroke-width="0.9"/>
<line x1="642.6" y1="943.9" x2="642.6" y2="946.3" stroke="#222" stroke-width="0.9"/>
<line x1="647.3" y1="943.9" x2="647.3" y2="946.3" stroke="#222" stroke-width="0.9"/>
<line x1="652" y1="943.9" x2="652" y2="946.3" stroke="#222" stroke-width="0.9"/>
<line x1="656.7" y1="943.9" x2="656.7" y2="948.5" stroke="#222" stroke-width="0.9"/>
<line x1="661.4" y1="943.9" x2="661.4" y2="946.3" stroke="#222" stroke-width="0.9"/>
<line x1="666.1" y1="943.9" x2="666.1" y2="946.3" stroke="#222" stroke-width="0.9"/>
<line x1="670.8" y1="943.9" x2="670.8" y2="946.3" stroke="#222" stroke-width="0.9"/>
<line x1="675.5" y1="943.9" x2="675.5" y2="948.5" stroke="#222" stroke-width="0.9"/>
<text x="77.9" y="955.6" font-size="7.4" text-anchor="middle" fill="#222" textLength="28.5" lengthAdjust="spacingAndGlyphs">15468000</text>
<text x="115.5" y="955.6" font-size="7.4" text-anchor="middle" fill="#222" textLength="28.5" lengthAdjust="spacingAndGlyphs">15460000</text>
<text x="177.6" y="955.6" font-size="7.4" text-anchor="middle" fill="#222" textLength="28.5" lengthAdjust="spacingAndGlyphs">12904000</text>
<text x="215.7" y="955.6" font-size="7.4" text-anchor="middle" fill="#222" textLength="28.5" lengthAdjust="spacingAndGlyphs">12912000</text>
<text x="262.5" y="955.6" font-size="7.4" text-anchor="middle" fill="#222" textLength="28.5" lengthAdjust="spacingAndGlyphs">15400000</text>
<text x="300.3" y="955.6" font-size="7.4" text-anchor="middle" fill="#222" textLength="28.5" lengthAdjust="spacingAndGlyphs">15392000</text>
<text x="354.4" y="955.6" font-size="7.4" text-anchor="middle" fill="#222" textLength="28.5" lengthAdjust="spacingAndGlyphs">16432000</text>
<text x="388.1" y="955.6" font-size="7.4" text-anchor="middle" fill="#222" textLength="28.5" lengthAdjust="spacingAndGlyphs">16424000</text>
<text x="423.5" y="955.6" font-size="7.4" text-anchor="middle" fill="#222" textLength="28.5" lengthAdjust="spacingAndGlyphs">15248000</text>
<text x="456.4" y="955.6" font-size="7.4" text-anchor="middle" fill="#222" textLength="28.5" lengthAdjust="spacingAndGlyphs">15240000</text>
<text x="507.5" y="955.6" font-size="7.4" text-anchor="middle" fill="#222" textLength="28.5" lengthAdjust="spacingAndGlyphs">15636000</text>
<text x="540.8" y="955.6" font-size="7.4" text-anchor="middle" fill="#222" textLength="28.5" lengthAdjust="spacingAndGlyphs">15628000</text>
<text x="581.5" y="955.6" font-size="7.4" text-anchor="middle" fill="#222" textLength="28.5" lengthAdjust="spacingAndGlyphs">22132000</text>
<text x="619.3" y="955.6" font-size="7.4" text-anchor="middle" fill="#222" textLength="28.5" lengthAdjust="spacingAndGlyphs">22124000</text>
<text x="658.1" y="955.6" font-size="7.4" text-anchor="middle" fill="#222" textLength="28.5" lengthAdjust="spacingAndGlyphs">22116000</text>
<text x="63.4" y="868.9" font-size="8.6" text-anchor="end" fill="#222" textLength="26" lengthAdjust="spacingAndGlyphs">6588000</text>
<text x="63.4" y="887.94" font-size="8.6" text-anchor="end" fill="#222" textLength="26" lengthAdjust="spacingAndGlyphs">6592000</text>
<text x="63.4" y="906.98" font-size="8.6" text-anchor="end" fill="#222" textLength="26" lengthAdjust="spacingAndGlyphs">6596000</text>
<text x="63.4" y="926.02" font-size="8.6" text-anchor="end" fill="#222" textLength="26" lengthAdjust="spacingAndGlyphs">6600000</text>
<text x="63.4" y="945.06" font-size="8.6" text-anchor="end" fill="#222" textLength="26" lengthAdjust="spacingAndGlyphs">6604000</text>
<text x="26.9" y="903.1" font-size="8.4" text-anchor="middle" font-weight="normal" fill="#222" transform="rotate(-90 26.9 903.1)"><tspan font-style="italic">T. orientalis</tspan> scaf M30</text>
<text x="111.5" y="973.3" font-size="8.6" text-anchor="middle" font-weight="normal" fill="#222"><tspan font-style="italic">T. maccoyii</tspan> chr. 20.</text>
<text x="201.2" y="973.3" font-size="8.6" text-anchor="middle" font-weight="normal" fill="#222"><tspan font-style="italic">T. albacares</tspan> chr. 20</text>
<text x="288.6" y="973.3" font-size="8.6" text-anchor="middle" font-weight="normal" fill="#222"><tspan font-style="italic">T. thynnus</tspan> chr. 20</text>
<text x="372" y="973.3" font-size="8.6" text-anchor="middle" font-weight="normal" fill="#222"><tspan font-style="italic">E. affinis</tspan> chr. 20</text>
<text x="452" y="973.3" font-size="8.6" text-anchor="middle" font-weight="normal" fill="#222"><tspan font-style="italic">K. pelamis</tspan> chr. 18</text>
<text x="533.8" y="973.3" font-size="8.6" text-anchor="middle" font-weight="normal" fill="#222"><tspan font-style="italic">S. japonicus</tspan> chr. 20</text>
<text x="627" y="973.3" font-size="8.6" text-anchor="middle" font-weight="normal" fill="#222"><tspan font-style="italic">L. savala</tspan> chr. 11</text>
</svg>
</body></html>
